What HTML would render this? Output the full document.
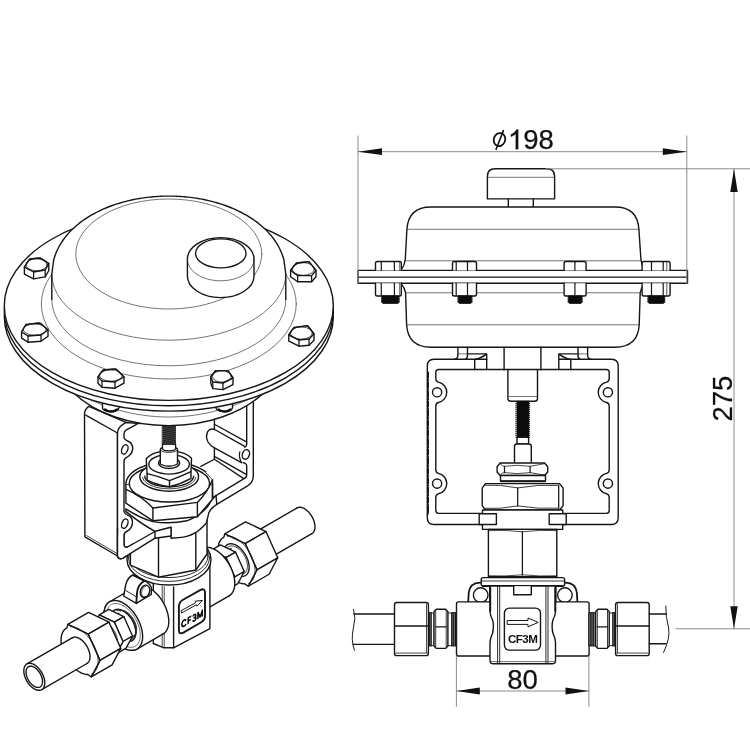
<!DOCTYPE html>
<html><head><meta charset="utf-8"><title>Valve drawing</title>
<style>
html,body{margin:0;padding:0;background:#fff;}
body{width:750px;height:750px;overflow:hidden;font-family:"Liberation Sans",sans-serif;}
svg{display:block;filter:grayscale(1);}
text{font-family:"Liberation Sans",sans-serif;fill:#111;}
</style></head><body>
<svg width="750" height="750" viewBox="0 0 750 750" stroke-linecap="round" stroke-linejoin="round">
<rect x="0" y="0" width="750" height="750" fill="#fff"/>
<path d="M487.4 198.9 L487.4 176.4 Q487.4 168.7 495.1 168.7 L546.9 168.7 Q554.6 168.7 554.6 176.4 L554.6 198.9 Z" stroke="#161616" stroke-width="1.4" fill="#fff" />
<path d="M487.6 177.3L554.4 177.3" stroke="#2a2a2a" stroke-width="0.65" fill="none"/>
<path d="M508.3 198.9V207 M533.3 198.9V207" stroke="#161616" stroke-width="1.4" fill="none" />
<path d="M431 207 L615 207 Q637.6 207 638.9 229.3 L640.9 259.2 Q641.3 265 644.8 270.4 L644.8 283.4 Q641 288 640.2 292.8 L639.2 324.8 Q638 347.2 615 347.2 L431 347.2 Q408 347.2 406.6 324.8 L405.6 292.8 Q404.8 288 401 283.4 L401 270.4 Q404.8 265 405.3 259.2 L406.9 229.3 Q408.4 207 431 207 Z" stroke="#161616" stroke-width="1.4" fill="#fff" />
<path d="M406.9 229.3L638.9 229.3" stroke="#2a2a2a" stroke-width="0.65" fill="none"/>
<path d="M405.2 260.8L641 260.8" stroke="#2a2a2a" stroke-width="0.65" fill="none"/>
<path d="M405.6 292.8L640.2 292.8" stroke="#2a2a2a" stroke-width="0.65" fill="none"/>
<path d="M406.6 324.8L639.2 324.8" stroke="#2a2a2a" stroke-width="0.65" fill="none"/>
<rect x="358" y="270.4" width="329.5" height="12.9" rx="0" stroke="#161616" stroke-width="1.4" fill="#fff"/>
<path d="M358 277.1L687.5 277.1" stroke="#161616" stroke-width="1.4" fill="none"/>
<path d="M375.5 270.4 L375.5 263.3 Q375.5 261.5 377.3 261.5 L399.5 261.5 Q401.3 261.5 401.3 263.3 L401.3 270.4" stroke="#161616" stroke-width="1.4" fill="#fff" />
<path d="M375.5 283.3 L375.5 294.2 Q375.5 296 377.3 296 L399.5 296 Q401.3 296 401.3 294.2 L401.3 283.3" stroke="#161616" stroke-width="1.4" fill="#fff" />
<path d="M381.3 262.3L381.3 270.4" stroke="#161616" stroke-width="1.19" fill="none"/>
<path d="M381.3 283.3L381.3 295.2" stroke="#161616" stroke-width="1.19" fill="none"/>
<path d="M394.4 262.3L394.4 270.4" stroke="#161616" stroke-width="1.19" fill="none"/>
<path d="M394.4 283.3L394.4 295.2" stroke="#161616" stroke-width="1.19" fill="none"/>
<path d="M399.6 262.3L399.6 270.4" stroke="#161616" stroke-width="0.6" fill="none"/>
<path d="M399.6 283.3L399.6 295.2" stroke="#161616" stroke-width="0.6" fill="none"/>
<path d="M381.8 296 L381.1 296.4 L382.3 297.29999999999995 L381.1 298.2 L382.3 299.09999999999997 L381.1 300.0 L382.3 300.9 L381.1 301.8 L382.3 302.7 L382.8 303.4 L398 303.4 L398.5 302.7 L399.7 301.8 L398.5 300.9 L399.7 300.0 L398.5 299.09999999999997 L399.7 298.2 L398.5 297.29999999999995 L399.7 296.4 L399 296 Z" fill="#0c0c0c" stroke="#0c0c0c" stroke-width="0.8"/>
<path d="M452.5 270.4 L452.5 263.3 Q452.5 261.5 454.3 261.5 L474.7 261.5 Q476.5 261.5 476.5 263.3 L476.5 270.4" stroke="#161616" stroke-width="1.4" fill="#fff" />
<path d="M452.5 283.3 L452.5 294.2 Q452.5 296 454.3 296 L474.7 296 Q476.5 296 476.5 294.2 L476.5 283.3" stroke="#161616" stroke-width="1.4" fill="#fff" />
<path d="M456.2 262.3L456.2 270.4" stroke="#161616" stroke-width="1.19" fill="none"/>
<path d="M456.2 283.3L456.2 295.2" stroke="#161616" stroke-width="1.19" fill="none"/>
<path d="M467.5 262.3L467.5 270.4" stroke="#161616" stroke-width="1.19" fill="none"/>
<path d="M467.5 283.3L467.5 295.2" stroke="#161616" stroke-width="1.19" fill="none"/>
<path d="M458.2 296 L457.5 296.4 L458.7 297.29999999999995 L457.5 298.2 L458.7 299.09999999999997 L457.5 300.0 L458.7 300.9 L457.5 301.8 L458.7 302.7 L459.2 303.4 L470.8 303.4 L471.3 302.7 L472.5 301.8 L471.3 300.9 L472.5 300.0 L471.3 299.09999999999997 L472.5 298.2 L471.3 297.29999999999995 L472.5 296.4 L471.8 296 Z" fill="#0c0c0c" stroke="#0c0c0c" stroke-width="0.8"/>
<path d="M564.1 270.4 L564.1 263.3 Q564.1 261.5 565.9 261.5 L584.3000000000001 261.5 Q586.1 261.5 586.1 263.3 L586.1 270.4" stroke="#161616" stroke-width="1.4" fill="#fff" />
<path d="M564.1 283.3 L564.1 294.2 Q564.1 296 565.9 296 L584.3000000000001 296 Q586.1 296 586.1 294.2 L586.1 283.3" stroke="#161616" stroke-width="1.4" fill="#fff" />
<path d="M574.9 262.3L574.9 270.4" stroke="#161616" stroke-width="1.19" fill="none"/>
<path d="M574.9 283.3L574.9 295.2" stroke="#161616" stroke-width="1.19" fill="none"/>
<path d="M568.4 296 L567.6999999999999 296.4 L568.9 297.29999999999995 L567.6999999999999 298.2 L568.9 299.09999999999997 L567.6999999999999 300.0 L568.9 300.9 L567.6999999999999 301.8 L568.9 302.7 L569.4 303.4 L581 303.4 L581.5 302.7 L582.7 301.8 L581.5 300.9 L582.7 300.0 L581.5 299.09999999999997 L582.7 298.2 L581.5 297.29999999999995 L582.7 296.4 L582 296 Z" fill="#0c0c0c" stroke="#0c0c0c" stroke-width="0.8"/>
<path d="M642.1 270.4 L642.1 263.3 Q642.1 261.5 643.9 261.5 L668.3000000000001 261.5 Q670.1 261.5 670.1 263.3 L670.1 270.4" stroke="#161616" stroke-width="1.4" fill="#fff" />
<path d="M642.1 283.3 L642.1 294.2 Q642.1 296 643.9 296 L668.3000000000001 296 Q670.1 296 670.1 294.2 L670.1 283.3" stroke="#161616" stroke-width="1.4" fill="#fff" />
<path d="M651.5 262.3L651.5 270.4" stroke="#161616" stroke-width="1.19" fill="none"/>
<path d="M651.5 283.3L651.5 295.2" stroke="#161616" stroke-width="1.19" fill="none"/>
<path d="M663.2 262.3L663.2 270.4" stroke="#161616" stroke-width="1.19" fill="none"/>
<path d="M663.2 283.3L663.2 295.2" stroke="#161616" stroke-width="1.19" fill="none"/>
<path d="M666.8 262.3L666.8 270.4" stroke="#161616" stroke-width="0.7" fill="none"/>
<path d="M666.8 283.3L666.8 295.2" stroke="#161616" stroke-width="0.7" fill="none"/>
<path d="M648.1 296 L647.4 296.4 L648.6 297.29999999999995 L647.4 298.2 L648.6 299.09999999999997 L647.4 300.0 L648.6 300.9 L647.4 301.8 L648.6 302.7 L649.1 303.4 L663.5 303.4 L664.0 302.7 L665.2 301.8 L664.0 300.9 L665.2 300.0 L664.0 299.09999999999997 L665.2 298.2 L664.0 297.29999999999995 L665.2 296.4 L664.5 296 Z" fill="#0c0c0c" stroke="#0c0c0c" stroke-width="0.8"/>
<path d="M457.9 347.2V355 Q457.9 358.8 454.5 359.2 M467.5 347.2V355 Q467.5 358.8 465.5 359.2" stroke="#161616" stroke-width="1.4" fill="none" />
<path d="M457.9 353.9L467.5 353.9" stroke="#2a2a2a" stroke-width="0.65" fill="none"/>
<path d="M587.6 347.2V355 Q587.6 358.8 591 359.2 M578 347.2V355 Q578 358.8 580 359.2" stroke="#161616" stroke-width="1.4" fill="none" />
<path d="M578 353.9L587.6 353.9" stroke="#2a2a2a" stroke-width="0.65" fill="none"/>
<path d="M467.5 353.9 L486.7 353.9 L486.7 369.5 M474.7 369.5 L474.7 359.4 Q481 358.6 486.7 353.9" stroke="#161616" stroke-width="1.4" fill="none" />
<path d="M578 353.9 L558.8 353.9 L558.8 369.5 M570.8 369.5 L570.8 359.4 Q564.5 358.6 558.8 353.9" stroke="#161616" stroke-width="1.4" fill="none" />
<path d="M504.1 347.2V369.9 M540.9 347.2V369.9" stroke="#161616" stroke-width="1.4" fill="none" />
<path d="M507.9 369.9 V398.5 Q507.9 401.3 511 401.3 L534.5 401.3 Q537.5 401.3 537.5 398.5 V369.9" stroke="#161616" stroke-width="1.4" fill="#fff" />
<path d="M508.5 396.5L537 396.5" stroke="#2a2a2a" stroke-width="0.65" fill="none"/>
<rect x="516.2" y="401.3" width="13.4" height="36" fill="#0c0c0c" stroke="#0c0c0c" stroke-width="0.8"/>
<path d="M515.4 402.4L516.5 402.4" stroke="#fff" stroke-width="0.7" fill="none"/>
<path d="M529.3 402.4L530.4 402.4" stroke="#fff" stroke-width="0.7" fill="none"/>
<path d="M515.4 404.4L516.5 404.4" stroke="#fff" stroke-width="0.7" fill="none"/>
<path d="M529.3 404.4L530.4 404.4" stroke="#fff" stroke-width="0.7" fill="none"/>
<path d="M515.4 406.4L516.5 406.4" stroke="#fff" stroke-width="0.7" fill="none"/>
<path d="M529.3 406.4L530.4 406.4" stroke="#fff" stroke-width="0.7" fill="none"/>
<path d="M515.4 408.4L516.5 408.4" stroke="#fff" stroke-width="0.7" fill="none"/>
<path d="M529.3 408.4L530.4 408.4" stroke="#fff" stroke-width="0.7" fill="none"/>
<path d="M515.4 410.4L516.5 410.4" stroke="#fff" stroke-width="0.7" fill="none"/>
<path d="M529.3 410.4L530.4 410.4" stroke="#fff" stroke-width="0.7" fill="none"/>
<path d="M515.4 412.4L516.5 412.4" stroke="#fff" stroke-width="0.7" fill="none"/>
<path d="M529.3 412.4L530.4 412.4" stroke="#fff" stroke-width="0.7" fill="none"/>
<path d="M515.4 414.4L516.5 414.4" stroke="#fff" stroke-width="0.7" fill="none"/>
<path d="M529.3 414.4L530.4 414.4" stroke="#fff" stroke-width="0.7" fill="none"/>
<path d="M515.4 416.4L516.5 416.4" stroke="#fff" stroke-width="0.7" fill="none"/>
<path d="M529.3 416.4L530.4 416.4" stroke="#fff" stroke-width="0.7" fill="none"/>
<path d="M515.4 418.4L516.5 418.4" stroke="#fff" stroke-width="0.7" fill="none"/>
<path d="M529.3 418.4L530.4 418.4" stroke="#fff" stroke-width="0.7" fill="none"/>
<path d="M515.4 420.4L516.5 420.4" stroke="#fff" stroke-width="0.7" fill="none"/>
<path d="M529.3 420.4L530.4 420.4" stroke="#fff" stroke-width="0.7" fill="none"/>
<path d="M515.4 422.4L516.5 422.4" stroke="#fff" stroke-width="0.7" fill="none"/>
<path d="M529.3 422.4L530.4 422.4" stroke="#fff" stroke-width="0.7" fill="none"/>
<path d="M515.4 424.4L516.5 424.4" stroke="#fff" stroke-width="0.7" fill="none"/>
<path d="M529.3 424.4L530.4 424.4" stroke="#fff" stroke-width="0.7" fill="none"/>
<path d="M515.4 426.4L516.5 426.4" stroke="#fff" stroke-width="0.7" fill="none"/>
<path d="M529.3 426.4L530.4 426.4" stroke="#fff" stroke-width="0.7" fill="none"/>
<path d="M515.4 428.4L516.5 428.4" stroke="#fff" stroke-width="0.7" fill="none"/>
<path d="M529.3 428.4L530.4 428.4" stroke="#fff" stroke-width="0.7" fill="none"/>
<path d="M515.4 430.4L516.5 430.4" stroke="#fff" stroke-width="0.7" fill="none"/>
<path d="M529.3 430.4L530.4 430.4" stroke="#fff" stroke-width="0.7" fill="none"/>
<path d="M515.4 432.4L516.5 432.4" stroke="#fff" stroke-width="0.7" fill="none"/>
<path d="M529.3 432.4L530.4 432.4" stroke="#fff" stroke-width="0.7" fill="none"/>
<path d="M515.4 434.4L516.5 434.4" stroke="#fff" stroke-width="0.7" fill="none"/>
<path d="M529.3 434.4L530.4 434.4" stroke="#fff" stroke-width="0.7" fill="none"/>
<path d="M515.4 436.4L516.5 436.4" stroke="#fff" stroke-width="0.7" fill="none"/>
<path d="M529.3 436.4L530.4 436.4" stroke="#fff" stroke-width="0.7" fill="none"/>
<rect x="517" y="437.3" width="11.6" height="6.7" rx="0" stroke="#161616" stroke-width="1.4" fill="#fff"/>
<path d="M514.5 462.1 V446.5 Q514.5 444 517 444 L528.8 444 Q531.3 444 531.3 446.5 V462.1" stroke="#161616" stroke-width="1.4" fill="#fff" />
<path d="M486.7 359.2 L434 359.2 Q427.3 359.2 427.3 366 L427.3 517.8 Q427.3 524.5 434 524.5 L611.5 524.5 Q618.2 524.5 618.2 517.8 L618.2 366 Q618.2 359.2 611.5 359.2 L558.8 359.2" stroke="#161616" stroke-width="1.4" fill="none" />
<path d="M438.6 369.5 L606.4000000000001 369.5 Q609.2 369.5 609.2 372.3 L609.2 378.5 Q609.2 381.3 606.6 382.1 A10.4 10.4 0 0 0 606.6 402.5 Q609.2 403.3 609.2 406.1 L609.2 469.8 Q609.2 472.6 606.6 473.40000000000003 A10.4 10.4 0 0 0 606.6 493.8 Q609.2 494.6 609.2 497.40000000000003 L609.2 510.59999999999997 Q609.2 513.4 606.4000000000001 513.4 L438.6 513.4 Q435.8 513.4 435.8 510.59999999999997 L435.8 497.40000000000003 Q435.8 494.6 438.40000000000003 493.8 A10.4 10.4 0 0 0 438.40000000000003 473.40000000000003 Q435.8 472.6 435.8 469.8 L435.8 406.1 Q435.8 403.3 438.40000000000003 402.5 A10.4 10.4 0 0 0 438.40000000000003 382.1 Q435.8 381.3 435.8 378.5 L435.8 372.3 Q435.8 369.5 438.6 369.5 Z" stroke="#161616" stroke-width="1.4" fill="none" />
<ellipse cx="437.1" cy="392.3" rx="4.6" ry="4.6" stroke="#161616" stroke-width="1.4" fill="none"/>
<ellipse cx="437.1" cy="483.6" rx="4.6" ry="4.6" stroke="#161616" stroke-width="1.4" fill="none"/>
<ellipse cx="607.9" cy="392.3" rx="4.6" ry="4.6" stroke="#161616" stroke-width="1.4" fill="none"/>
<ellipse cx="607.9" cy="483.6" rx="4.6" ry="4.6" stroke="#161616" stroke-width="1.4" fill="none"/>
<path d="M428.5 372 V514" stroke="#161616" stroke-width="1.0" stroke-dasharray="6 1.2 1.2 1.2" fill="none"/>
<path d="M497.1 466.7 L500.2 463 L544.6 463 L547.7 466.7 L547.7 472 L544.6 475.5 L500.2 475.5 L497.1 472 Z" stroke="#161616" stroke-width="1.4" fill="#fff" />
<path d="M504.5 466.3V472.6 M530.1 466.3V472.6" stroke="#161616" stroke-width="1.26" fill="none" />
<path d="M500.2 463.6 Q502.5 466.5 504.5 466.3 Q517 464.3 530.1 466.3 Q540 464.6 544.6 463.6" stroke="#161616" stroke-width="0.78" fill="none" />
<path d="M500.2 475 Q502.5 472.4 504.5 472.6 Q517 474.6 530.1 472.6 Q540 474.4 544.6 475" stroke="#161616" stroke-width="0.78" fill="none" />
<rect x="500.5" y="475.5" width="45" height="5.6" rx="0" stroke="#161616" stroke-width="1.4" fill="#fff"/>
<path d="M501 481.3L545 481.3" stroke="#161616" stroke-width="2.0" fill="none"/>
<path d="M482.2 488.2 L485.4 483.6 L559.6 483.6 L563.1 488.2 L563.1 505.6 L559.6 510 L485.4 510 L482.2 505.6 Z" stroke="#161616" stroke-width="1.4" fill="#fff" />
<path d="M517.7 487.9V505.9 M558.7 485.3V508.2" stroke="#161616" stroke-width="1.26" fill="none" />
<path d="M484.6 485.2 Q500 484.3 517.7 487.9 Q538 484.3 558.7 485.3" stroke="#161616" stroke-width="0.8450000000000001" fill="none" />
<path d="M484.6 508.4 Q500 509.3 517.7 505.9 Q538 509.3 558.7 508.2" stroke="#161616" stroke-width="0.8450000000000001" fill="none" />
<rect x="482.5" y="510" width="80.2" height="19.4" rx="0" stroke="#161616" stroke-width="1.4" fill="#fff"/>
<rect x="479.2" y="513.8" width="17.2" height="10.7" rx="0" stroke="#161616" stroke-width="1.4" fill="#fff"/>
<rect x="549.2" y="513.8" width="17.0" height="10.7" rx="0" stroke="#161616" stroke-width="1.4" fill="#fff"/>
<rect x="488.4" y="529.4" width="68.4" height="47.4" rx="0" stroke="#161616" stroke-width="1.4" fill="#fff"/>
<path d="M522.4 531.6L522.4 575" stroke="#161616" stroke-width="1.26" fill="none"/>
<path d="M488.4 530.6 Q505 529.6 522.4 531.8 Q540 529.6 556.8 530.6" stroke="#161616" stroke-width="0.78" fill="none" />
<path d="M488.4 575.8 Q505 576.6 522.4 574.8 Q540 576.6 556.8 575.8" stroke="#161616" stroke-width="0.78" fill="none" />
<path d="M468.2 602.3 L468.7 593 Q469.6 583 480 582.6 L490 582.6 L490 602.3" stroke="#161616" stroke-width="1.8" fill="#fff" />
<ellipse cx="480.7" cy="595.1" rx="7.3" ry="7.3" stroke="#161616" stroke-width="1.4" fill="#fff"/>
<path d="M577.3999999999999 602.3 L576.8999999999999 593 Q575.9999999999999 583 565.5999999999999 582.6 L555.5999999999999 582.6 L555.5999999999999 602.3" stroke="#161616" stroke-width="1.8" fill="#fff" />
<ellipse cx="564.8999999999999" cy="595.1" rx="7.3" ry="7.3" stroke="#161616" stroke-width="1.4" fill="#fff"/>
<path d="M490.5 601.9 L458.6 601.9 Q456.5 601.9 456.5 604 L456.5 653.9 Q456.5 656 458.6 656 L490.5 656" stroke="#161616" stroke-width="1.4" fill="#fff" />
<path d="M555 601.9 L587 601.9 Q589.1 601.9 589.1 604 L589.1 653.9 Q589.1 656 587 656 L555 656" stroke="#161616" stroke-width="1.4" fill="#fff" />
<path d="M483.2 577.6 L562.6 577.6 Q564.6 577.6 564.6 579.6 L564.6 584 Q564.6 586 562.6 586 L483.2 586 Q481.2 586 481.2 584 L481.2 579.6 Q481.2 577.6 483.2 577.6 Z" stroke="#161616" stroke-width="1.4" fill="#fff" />
<path d="M482 581L564 581" stroke="#161616" stroke-width="0.8450000000000001" fill="none"/>
<path d="M483 586L562.6 586" stroke="#161616" stroke-width="1.9" fill="none"/>
<path d="M490 586 L490 612 Q490.4 616 492.6 620 Q494.2 626 492.6 633 Q490.4 638 490 642 L490 660.5 Q490 663.8 493.3 663.8 L552.2 663.8 Q555.5 663.8 555.5 660.5 L555.5 642 Q555.1 638 552.9 633 Q551.3 626 552.9 620 Q555.1 616 555.5 612 L555.5 586 Z" stroke="#161616" stroke-width="1.4" fill="#fff" />
<path d="M490.3 588 V611" stroke="#161616" stroke-width="1.8" stroke-dasharray="5 1.3" fill="none"/>
<path d="M555.2 588 V611" stroke="#161616" stroke-width="1.8" stroke-dasharray="5 1.3" fill="none"/>
<path d="M497.6 586.5V663.4 M499.7 586.5V663.4 M545.9 586.5V663.4 M548 586.5V663.4" stroke="#161616" stroke-width="0.9099999999999999" fill="none" />
<path d="M490.5 661.6L555 661.6" stroke="#2a2a2a" stroke-width="0.65" fill="none"/>
<path d="M513.7 586.2 V594.8 H531.3 V586.2" stroke="#161616" stroke-width="1.4" fill="#fff" />
<rect x="504.4" y="608.1" width="36.1" height="42" rx="5" stroke="#161616" stroke-width="1.4" fill="#fff"/>
<path d="M507.6 620.5 L528 620.5 L528 618 L538.2 622.4 L528 626.9 L528 624.4 L507.6 624.4 Z" stroke="#161616" stroke-width="1.0" fill="#fff" />
<text x="507.9" y="642.6" font-size="10.4" font-weight="bold" letter-spacing="-0.45" textLength="29.6" lengthAdjust="spacingAndGlyphs">CF3M</text>
<rect x="428.4" y="613" width="5.600000000000023" height="32.6" fill="#fff" stroke="#161616" stroke-width="0.9"/>
<rect x="428.7" y="612.2" width="3.099999999999966" height="34.2" fill="#111"/>
<path d="M430.25 613.4L430.25 645.2" stroke="#cfcfcf" stroke-width="0.45" fill="none"/>
<rect x="447.9" y="613" width="8.600000000000023" height="32.6" fill="#fff" stroke="#161616" stroke-width="0.9"/>
<rect x="451.1" y="612.2" width="5.099999999999966" height="34.2" fill="#111"/>
<path d="M452.8 613.4L452.8 645.2" stroke="#cfcfcf" stroke-width="0.45" fill="none"/>
<path d="M454.5 613.4L454.5 645.2" stroke="#cfcfcf" stroke-width="0.45" fill="none"/>
<path d="M434 611.6 L436.2 609.2 L445.7 609.2 L447.9 611.6 L447.9 646 L445.7 648.4 L436.2 648.4 L434 646 Z" stroke="#161616" stroke-width="1.4" fill="#fff" />
<path d="M435.6 626.8L446.29999999999995 626.8" stroke="#161616" stroke-width="1.26" fill="none"/>
<path d="M435.7 610.5V647.2 M446.2 610.5V647.2" stroke="#161616" stroke-width="0.8450000000000001" fill="none" />
<path d="M394.5 604.7 Q394.5 602.5 396.7 602.5 L426.2 602.5 Q428.4 602.5 428.4 604.7 L428.4 653.4 Q428.4 655.6 426.2 655.6 L396.7 655.6 Q394.5 655.6 394.5 653.4 Z" stroke="#161616" stroke-width="1.4" fill="#fff" />
<path d="M394.5 626L428.4 626" stroke="#161616" stroke-width="1.26" fill="none"/>
<path d="M395.7 653.1L427.2 653.1" stroke="#161616" stroke-width="0.78" fill="none"/>
<path d="M426.5 604L426.5 653" stroke="#161616" stroke-width="0.78" fill="none"/>
<path d="M394.5 614 L354 614 M394.5 644.4 L353.3 644.4" stroke="#161616" stroke-width="1.4" fill="none" />
<path d="M353.6 609.4 Q356.2 618 353.4 628 Q350.6 640 354.4 650.2" stroke="#161616" stroke-width="0.9750000000000001" fill="none" />
<rect x="609.2" y="613" width="6.399999999999977" height="32.6" fill="#fff" stroke="#161616" stroke-width="0.9"/>
<rect x="612.2" y="612.2" width="3.1000000000000227" height="34.2" fill="#111"/>
<path d="M613.75 613.4L613.75 645.2" stroke="#cfcfcf" stroke-width="0.45" fill="none"/>
<rect x="589.1" y="613" width="6.5" height="32.6" fill="#fff" stroke="#161616" stroke-width="0.9"/>
<rect x="589.4" y="612.2" width="5.100000000000023" height="34.2" fill="#111"/>
<path d="M591.1 613.4L591.1 645.2" stroke="#cfcfcf" stroke-width="0.45" fill="none"/>
<path d="M592.8 613.4L592.8 645.2" stroke="#cfcfcf" stroke-width="0.45" fill="none"/>
<path d="M595.6 611.6 L597.8000000000001 609.2 L607.0 609.2 L609.2 611.6 L609.2 646 L607.0 648.4 L597.8000000000001 648.4 L595.6 646 Z" stroke="#161616" stroke-width="1.4" fill="#fff" />
<path d="M597.2 626.8L607.6 626.8" stroke="#161616" stroke-width="1.26" fill="none"/>
<path d="M597.3000000000001 610.5V647.2 M607.5 610.5V647.2" stroke="#161616" stroke-width="0.8450000000000001" fill="none" />
<path d="M615.6 604.7 Q615.6 602.5 617.8000000000001 602.5 L647.0 602.5 Q649.2 602.5 649.2 604.7 L649.2 653.4 Q649.2 655.6 647.0 655.6 L617.8000000000001 655.6 Q615.6 655.6 615.6 653.4 Z" stroke="#161616" stroke-width="1.4" fill="#fff" />
<path d="M615.6 626L649.2 626" stroke="#161616" stroke-width="1.26" fill="none"/>
<path d="M616.8000000000001 653.1L648.0 653.1" stroke="#161616" stroke-width="0.78" fill="none"/>
<path d="M617.5 604L617.5 653" stroke="#161616" stroke-width="0.78" fill="none"/>
<path d="M649.2 614 L666.6 614 M649.2 643.8 L666 643.8" stroke="#161616" stroke-width="1.4" fill="none" />
<path d="M665.8 606 Q665.4 616 668.6 628 Q670.4 638 663.6 652.4" stroke="#161616" stroke-width="0.9750000000000001" fill="none" />
<path d="M249.89 535.22L297.08 507.97L297.76 507.64L298.48 507.42L299.25 507.30L300.06 507.28L300.91 507.36L301.78 507.55L302.67 507.83L303.58 508.22L304.49 508.70L305.41 509.27L306.31 509.93L307.20 510.68L308.08 511.50L308.92 512.39L309.73 513.35L310.50 514.36L311.23 515.42L311.90 516.52L312.52 517.66L313.08 518.82L313.57 519.99L313.99 521.17L314.34 522.35L314.61 523.51L314.81 524.66L314.93 525.77L314.97 526.85L314.93 527.88L314.81 528.86L314.61 529.78L314.34 530.62L313.99 531.40L313.57 532.09L313.08 532.70L312.52 533.21L311.90 533.63L264.70 560.88L264.70 560.88L264.03 561.21L263.31 561.43L262.53 561.55L261.72 561.57L260.88 561.49L260.01 561.30L259.11 561.02L258.21 560.63L257.30 560.15L256.38 559.58L255.48 558.92L254.58 558.17L253.71 557.35L252.87 556.46L252.06 555.50L251.28 554.49L250.56 553.43L249.89 552.33L249.27 551.19L248.71 550.03L248.22 548.86L247.80 547.68L247.45 546.50L247.17 545.34L246.98 544.19L246.86 543.08L246.82 542.00L246.86 540.97L246.98 539.99L247.17 539.07L247.45 538.23L247.80 537.45L248.22 536.76L248.71 536.15L249.27 535.64L249.89 535.22Z" stroke="#fff" stroke-width="0.01" fill="#fff" />
<path d="M249.89 535.22L297.08 507.97" stroke="#161616" stroke-width="1.4" fill="none" />
<path d="M264.70 560.88L311.90 533.63" stroke="#161616" stroke-width="1.4" fill="none" />
<path d="M297.08 507.97L297.76 507.64L298.48 507.42L299.25 507.30L300.06 507.28L300.91 507.36L301.78 507.55L302.67 507.83L303.58 508.22L304.49 508.70L305.41 509.27L306.31 509.93L307.20 510.68L308.08 511.50L308.92 512.39L309.73 513.35L310.50 514.36L311.23 515.42L311.90 516.52L312.52 517.66L313.08 518.82L313.57 519.99L313.99 521.17L314.34 522.35L314.61 523.51L314.81 524.66L314.93 525.77L314.97 526.85L314.93 527.88L314.81 528.86L314.61 529.78L314.34 530.62L313.99 531.40L313.57 532.09L313.08 532.70L312.52 533.21L311.90 533.63" stroke="#161616" stroke-width="1.4" fill="none" />
<path d="M264.70 560.88L264.03 561.21L263.31 561.43L262.53 561.55L261.72 561.57L260.88 561.49L260.01 561.30L259.11 561.02L258.21 560.63L257.30 560.15L256.38 559.58L255.48 558.92L254.58 558.17L253.71 557.35L252.87 556.46L252.06 555.50L251.28 554.49L250.56 553.43L249.89 552.33L249.27 551.19L248.71 550.03L248.22 548.86L247.80 547.68L247.45 546.50L247.17 545.34L246.98 544.19L246.86 543.08L246.82 542.00L246.86 540.97L246.98 539.99L247.17 539.07L247.45 538.23L247.80 537.45L248.22 536.76L248.71 536.15L249.27 535.64L249.89 535.22" stroke="#161616" stroke-width="1.4" fill="none" />
<path d="M224.74 533.84L245.52 521.84L265.97 531.58L277.74 557.79L269.07 574.26L248.28 586.26L247.11 583.64L245.75 583.85L244.32 583.89L242.83 583.74L241.29 583.41L239.72 582.91L238.12 582.23L236.51 581.38L234.90 580.37L233.30 579.20L231.73 577.89L230.19 576.45L228.70 574.87L227.28 573.19L225.92 571.41L224.64 569.53L223.45 567.59L222.36 565.59L221.38 563.55L220.51 561.48L219.77 559.40L219.15 557.32L218.67 555.27L218.32 553.25L218.11 551.28L218.04 549.38L218.11 547.57L218.32 545.84L218.67 544.23L219.15 542.73L219.77 541.37L220.51 540.15L221.38 539.08L222.36 538.17L223.45 537.43L224.64 536.85L225.92 536.46Z" stroke="#fff" stroke-width="0.01" fill="#fff" />
<path d="M224.74 533.84L245.52 521.84L265.97 531.58L245.18 543.58Z" stroke="#161616" stroke-width="1.4" fill="#fff" />
<path d="M245.18 543.58L265.97 531.58L277.74 557.79L256.96 569.79Z" stroke="#161616" stroke-width="1.4" fill="#fff" />
<path d="M256.96 569.79L277.74 557.79L269.07 574.26L248.28 586.26Z" stroke="#161616" stroke-width="1.4" fill="#fff" />
<path d="M224.74 533.84L245.18 543.58L256.96 569.79L248.28 586.26L244.90 583.90L243.39 583.82L241.83 583.55L240.23 583.09L238.60 582.45L236.95 581.63L235.30 580.64L233.66 579.48L232.04 578.17L230.46 576.71L228.92 575.12L227.45 573.41L226.05 571.59L224.73 569.68L223.51 567.69L222.39 565.64L221.38 563.55L220.49 561.43L219.74 559.29L219.11 557.17L218.63 555.07L218.29 553.00L218.09 551.00L218.04 549.06L218.14 547.21L218.39 545.47L218.78 543.84L219.31 542.34L219.98 540.99L220.78 539.78L221.71 538.74L222.76 537.87L223.91 537.18Z" stroke="#161616" stroke-width="1.4" fill="#fff" />
<path d="M227.24 536.17L228.68 536.13L230.17 536.28L231.71 536.61L233.29 537.12L234.90 537.80L236.51 538.65L238.13 539.66L239.73 540.83L241.31 542.15L242.85 543.60L244.34 545.18L245.78 546.87L247.14 548.66L248.42 550.53L249.62 552.48L250.71 554.49L251.69 556.54L252.56 558.62L253.31 560.70L253.93 562.79L254.41 564.85L254.76 566.87L254.97 568.84L255.04 570.75L254.97 572.57L254.76 574.30L254.41 575.92L253.93 577.42L253.31 578.79L252.56 580.02L251.69 581.09L250.71 582.00L249.62 582.75L248.42 583.32" stroke="#161616" stroke-width="0.8450000000000001" fill="none" />
<path d="M236.51 545.45L237.61 546.14L238.71 546.94L239.78 547.84L240.84 548.83L241.85 549.90L242.83 551.06L243.76 552.28L244.64 553.56L245.45 554.89L246.20 556.26L246.87 557.66L247.46 559.07L247.97 560.50L248.39 561.92L248.72 563.32L248.96 564.70L249.11 566.05L249.15 567.35L249.11 568.59L248.96 569.77L248.72 570.88L248.39 571.90L247.97 572.84L247.46 573.67L246.87 574.40L246.20 575.03L245.45 575.54L244.64 575.93L243.76 576.20L242.83 576.34L241.85 576.37L240.84 576.27L239.78 576.04L238.71 575.70L237.61 575.23L236.51 574.65L235.41 573.96L234.32 573.16L233.24 572.26L232.19 571.27L231.17 570.20L230.19 569.04L229.26 567.82L228.38 566.54L227.57 565.21L226.83 563.84L226.15 562.44L225.56 561.03L225.05 559.60L224.63 558.18L224.30 556.78L224.06 555.40L223.92 554.05L223.87 552.75L223.92 551.51L224.06 550.33L224.30 549.22L224.63 548.20L225.05 547.26L225.56 546.43L226.15 545.70L226.83 545.07L227.57 544.56L228.38 544.17L229.26 543.90L230.19 543.76L231.17 543.73L232.19 543.83L233.24 544.06L234.32 544.40L235.41 544.87L236.51 545.45Z" stroke="#161616" stroke-width="1.4" fill="none" />
<path d="M236.51 547.45L237.46 548.05L238.41 548.74L239.34 549.51L240.24 550.36L241.12 551.29L241.97 552.29L242.77 553.34L243.52 554.45L244.23 555.60L244.87 556.78L245.45 557.98L245.96 559.21L246.40 560.43L246.76 561.66L247.05 562.87L247.26 564.07L247.38 565.23L247.42 566.35L247.38 567.42L247.26 568.44L247.05 569.40L246.76 570.28L246.40 571.08L245.96 571.81L245.45 572.44L244.87 572.98L244.23 573.41L243.52 573.75L242.77 573.98L241.97 574.11L241.12 574.13L240.24 574.04L239.34 573.85L238.41 573.55L237.46 573.15L236.51 572.65L235.56 572.05L234.62 571.36L233.69 570.59L232.78 569.74L231.90 568.81L231.06 567.81L230.25 566.76L229.50 565.65L228.80 564.50L228.15 563.32L227.57 562.12L227.06 560.89L226.62 559.67L226.26 558.44L225.97 557.23L225.77 556.03L225.64 554.87L225.60 553.75L225.64 552.68L225.77 551.66L225.97 550.70L226.26 549.82L226.62 549.02L227.06 548.29L227.57 547.66L228.15 547.12L228.80 546.69L229.50 546.35L230.25 546.12L231.06 545.99L231.90 545.97L232.78 546.06L233.69 546.25L234.62 546.55L235.56 546.95L236.51 547.45Z" stroke="#161616" stroke-width="0.8450000000000001" fill="none" />
<path d="M222.90 553.48L231.13 548.73L231.70 548.46L232.31 548.27L232.96 548.17L233.64 548.15L234.36 548.22L235.09 548.38L235.84 548.62L236.61 548.94L237.38 549.35L238.15 549.83L238.91 550.39L239.66 551.02L240.40 551.71L241.11 552.46L241.79 553.27L242.44 554.12L243.05 555.01L243.62 555.94L244.14 556.90L244.61 557.88L245.03 558.87L245.38 559.86L245.68 560.85L245.91 561.84L246.08 562.80L246.18 563.74L246.21 564.65L246.18 565.52L246.08 566.34L245.91 567.12L245.68 567.83L245.38 568.48L245.03 569.07L244.61 569.58L244.14 570.01L243.62 570.37L235.40 575.12L235.40 575.12L234.83 575.39L234.22 575.58L233.57 575.68L232.88 575.70L232.17 575.63L231.44 575.47L230.68 575.23L229.92 574.91L229.15 574.50L228.38 574.02L227.62 573.46L226.86 572.83L226.13 572.14L225.42 571.39L224.73 570.58L224.08 569.73L223.47 568.84L222.90 567.91L222.38 566.95L221.91 565.97L221.50 564.98L221.14 563.99L220.85 563.00L220.62 562.01L220.45 561.05L220.35 560.11L220.32 559.20L220.35 558.33L220.45 557.51L220.62 556.73L220.85 556.02L221.14 555.37L221.50 554.78L221.91 554.27L222.38 553.84L222.90 553.48Z" stroke="#fff" stroke-width="0.01" fill="#fff" />
<path d="M222.90 553.48L231.13 548.73" stroke="#161616" stroke-width="1.4" fill="none" />
<path d="M235.40 575.12L243.62 570.37" stroke="#161616" stroke-width="1.4" fill="none" />
<path d="M235.40 575.12L234.83 575.39L234.22 575.58L233.57 575.68L232.88 575.70L232.17 575.63L231.44 575.47L230.68 575.23L229.92 574.91L229.15 574.50L228.38 574.02L227.62 573.46L226.86 572.83L226.13 572.14L225.42 571.39L224.73 570.58L224.08 569.73L223.47 568.84L222.90 567.91L222.38 566.95L221.91 565.97L221.50 564.98L221.14 563.99L220.85 563.00L220.62 562.01L220.45 561.05L220.35 560.11L220.32 559.20L220.35 558.33L220.45 557.51L220.62 556.73L220.85 556.02L221.14 555.37L221.50 554.78L221.91 554.27L222.38 553.84L222.90 553.48" stroke="#161616" stroke-width="1.4" fill="none" />
<path d="M210.93 550.45L220.46 544.95L235.55 552.14L244.25 571.49L237.84 583.65L228.32 589.15L227.62 587.61L226.60 587.77L225.52 587.79L224.39 587.68L223.23 587.43L222.05 587.05L220.84 586.54L219.62 585.90L218.41 585.14L217.20 584.26L216.02 583.27L214.86 582.18L213.73 580.99L212.65 579.72L211.63 578.37L210.66 576.96L209.77 575.49L208.94 573.98L208.20 572.44L207.55 570.88L206.99 569.31L206.52 567.74L206.16 566.19L205.89 564.67L205.73 563.18L205.68 561.75L205.73 560.38L205.89 559.08L206.16 557.86L206.52 556.73L206.99 555.70L207.55 554.78L208.20 553.97L208.94 553.28L209.77 552.72L210.66 552.29L211.63 551.99Z" stroke="#fff" stroke-width="0.01" fill="#fff" />
<path d="M210.93 550.45L220.46 544.95L235.55 552.14L226.03 557.64Z" stroke="#161616" stroke-width="1.3299999999999998" fill="#fff" />
<path d="M226.03 557.64L235.55 552.14L244.25 571.49L234.72 576.99Z" stroke="#161616" stroke-width="1.3299999999999998" fill="#fff" />
<path d="M234.72 576.99L244.25 571.49L237.84 583.65L228.32 589.15Z" stroke="#161616" stroke-width="1.3299999999999998" fill="#fff" />
<path d="M210.93 550.45L226.03 557.64L234.72 576.99L228.32 589.15L225.95 587.80L224.82 587.74L223.64 587.54L222.43 587.19L221.20 586.71L219.96 586.09L218.71 585.34L217.47 584.47L216.25 583.47L215.06 582.37L213.90 581.17L212.78 579.88L211.73 578.51L210.73 577.07L209.81 575.57L208.96 574.02L208.20 572.44L207.53 570.84L206.96 569.23L206.49 567.63L206.13 566.04L205.87 564.48L205.72 562.97L205.68 561.51L205.76 560.11L205.94 558.79L206.24 557.57L206.64 556.44L207.15 555.41L207.75 554.50L208.45 553.72L209.24 553.06L210.12 552.54Z" stroke="#161616" stroke-width="1.3299999999999998" fill="#fff" />
<path d="M219.62 557.40L220.56 557.99L221.49 558.67L222.40 559.43L223.30 560.27L224.16 561.18L224.99 562.16L225.78 563.20L226.53 564.29L227.22 565.42L227.85 566.58L228.42 567.77L228.92 568.97L229.36 570.18L229.71 571.39L230.00 572.58L230.20 573.75L230.32 574.90L230.36 576.00L230.32 577.06L230.20 578.06L230.00 579.00L229.71 579.87L229.36 580.66L228.92 581.37L228.42 581.99L227.85 582.52L227.22 582.95L226.53 583.28L225.78 583.51L224.99 583.64L224.16 583.66L223.30 583.57L222.40 583.38L221.49 583.09L220.56 582.69L219.62 582.20L218.69 581.61L217.76 580.93L216.84 580.17L215.95 579.33L215.09 578.42L214.25 577.44L213.46 576.40L212.72 575.31L212.03 574.18L211.40 573.02L210.83 571.83L210.32 570.63L209.89 569.42L209.53 568.21L209.25 567.02L209.05 565.85L208.93 564.70L208.89 563.60L208.93 562.54L209.05 561.54L209.25 560.60L209.53 559.73L209.89 558.94L210.32 558.23L210.83 557.61L211.40 557.08L212.03 556.65L212.72 556.32L213.46 556.09L214.25 555.96L215.09 555.94L215.95 556.03L216.84 556.22L217.76 556.51L218.69 556.91L219.62 557.40Z" stroke="#161616" stroke-width="0.8450000000000001" fill="none" />
<path d="M206.82 563.62L214.61 559.12L215.15 558.86L215.72 558.68L216.33 558.59L216.98 558.57L217.65 558.64L218.34 558.78L219.05 559.01L219.77 559.32L220.49 559.70L221.21 560.15L221.93 560.68L222.64 561.27L223.33 561.92L224.00 562.63L224.65 563.39L225.26 564.19L225.83 565.03L226.37 565.91L226.86 566.81L227.30 567.73L227.69 568.66L228.02 569.59L228.30 570.53L228.52 571.45L228.68 572.36L228.77 573.25L228.80 574.10L228.77 574.92L228.68 575.69L228.52 576.42L228.30 577.09L228.02 577.71L227.69 578.26L227.30 578.74L226.86 579.15L226.37 579.48L218.57 583.98L218.57 583.98L218.04 584.24L217.46 584.42L216.85 584.51L216.21 584.53L215.54 584.46L214.85 584.32L214.14 584.09L213.42 583.78L212.70 583.40L211.97 582.95L211.25 582.42L210.54 581.83L209.85 581.18L209.18 580.47L208.54 579.71L207.93 578.91L207.35 578.07L206.82 577.19L206.33 576.29L205.89 575.37L205.50 574.44L205.16 573.51L204.88 572.57L204.67 571.65L204.51 570.74L204.41 569.85L204.38 569.00L204.41 568.18L204.51 567.41L204.67 566.68L204.88 566.01L205.16 565.39L205.50 564.84L205.89 564.36L206.33 563.95L206.82 563.62Z" stroke="#fff" stroke-width="0.01" fill="#fff" />
<path d="M206.82 563.62L214.61 559.12" stroke="#161616" stroke-width="1.4" fill="none" />
<path d="M218.57 583.98L226.37 579.48" stroke="#161616" stroke-width="1.4" fill="none" />
<path d="M218.57 583.98L218.04 584.24L217.46 584.42L216.85 584.51L216.21 584.53L215.54 584.46L214.85 584.32L214.14 584.09L213.42 583.78L212.70 583.40L211.97 582.95L211.25 582.42L210.54 581.83L209.85 581.18L209.18 580.47L208.54 579.71L207.93 578.91L207.35 578.07L206.82 577.19L206.33 576.29L205.89 575.37L205.50 574.44L205.16 573.51L204.88 572.57L204.67 571.65L204.51 570.74L204.41 569.85L204.38 569.00L204.41 568.18L204.51 567.41L204.67 566.68L204.88 566.01L205.16 565.39L205.50 564.84L205.89 564.36L206.33 563.95L206.82 563.62" stroke="#161616" stroke-width="1.4" fill="none" />
<path d="M214.40 404.00L253.30 404.00L253.30 478.00L249.00 485.00L216.80 504.40L200.00 512.00L200.00 404.00Z" stroke="#fff" stroke-width="0.01" fill="#fff" stroke-linejoin="round"/>
<path d="M253.3 400 L253.3 475.6 Q253.2 482.6 248 485.6 L216.8 504.4" stroke="#161616" stroke-width="1.4" fill="none" />
<path d="M246.7 402 L246.7 443.4 Q246.9 446.6 244 447.6 M243 462.6 Q246.8 463.4 246.7 466 L246.7 475 Q246.6 477.6 243.6 478.8 L216 495.6" stroke="#161616" stroke-width="1.4" fill="none" />
<path d="M244.6 446.4 L215.6 430 Q210.6 427.4 207.8 431.4 Q205.2 436.8 208 442 Q210.2 445.6 214.4 447.8 L241.5 462.6" stroke="#161616" stroke-width="1.4" fill="#fff" />
<ellipse cx="245.9" cy="454.4" rx="3.5" ry="4.9" stroke="#161616" stroke-width="1.4" fill="#fff" transform="rotate(18 245.9 454.4)"/>
<path d="M239.8 451.8 Q238.5 457 241.5 462.6" stroke="#161616" stroke-width="1.26" fill="none" />
<path d="M214.4 418 L214.4 429.6 M214.4 447.8 L214.4 459.2" stroke="#161616" stroke-width="1.4" fill="none" />
<path d="M214.4 424.2 L246.4 441.9" stroke="#161616" stroke-width="1.26" fill="none" />
<path d="M214.4 459.2 L243.8 478.6 M214.4 456.4 L246.2 474.4" stroke="#161616" stroke-width="1.26" fill="none" />
<path d="M214.4 459.2 L200.8 466.4" stroke="#161616" stroke-width="1.26" fill="none" />
<path d="M84.5 414 Q84.6 409.5 88.7 406.4 L126 422.4 L117.5 433 L117.5 556 L84.9 536.8 Z" stroke="#161616" stroke-width="1.4" fill="#fff" />
<path d="M85.7 415.2 L117.5 433" stroke="#161616" stroke-width="1.4" fill="none" />
<path d="M86.6 535.6 L117.5 553.8" stroke="#161616" stroke-width="0.78" fill="none" />
<path d="M117.5 433 Q118 427.6 123 424.6 L126 422.6 L160 424 L160 560 L125 560 Q119 560.5 117.5 556 Z" stroke="#fff" stroke-width="0.01" fill="#fff" />
<path d="M117.5 556 Q118.6 559.6 122.6 558.4 L156.7 537.4" stroke="#161616" stroke-width="1.4" fill="none" />
<path d="M117.5 433L117.5 556" stroke="#161616" stroke-width="1.4" fill="none"/>
<path d="M117.5 433 Q118 427.4 122.6 424.6 L126 422.5 L140 423.6" stroke="#161616" stroke-width="1.4" fill="none" />
<path d="M137 424.2 L126 430.2 Q123.8 431.6 124 434.4 L124 437.8 Q125 440.2 127.6 441 Q132.6 442.8 132.7 448.6 Q132 454.6 127.4 456.8 Q124.2 458.2 124 461 L124 511.6 Q125 514.4 127.6 515.2 Q132.6 517 132.5 522.8 Q131.8 528.8 127.4 531 Q124.2 532.4 124 535.2 L124 544.6 Q124.4 548 127.6 547 L155.4 531.2" stroke="#161616" stroke-width="1.4" fill="none" />
<ellipse cx="124.8" cy="449.4" rx="2.9" ry="4.9" stroke="#161616" stroke-width="1.4" fill="#fff" transform="rotate(22 124.8 449.4)"/>
<ellipse cx="124.8" cy="523.6" rx="2.9" ry="4.9" stroke="#161616" stroke-width="1.4" fill="#fff" transform="rotate(22 124.8 523.6)"/>
<path d="M167.86 568.15L201.81 548.55L203.05 547.95L204.39 547.54L205.81 547.31L207.31 547.28L208.86 547.43L210.47 547.77L212.11 548.30L213.78 549.01L215.47 549.90L217.15 550.96L218.82 552.17L220.47 553.55L222.07 555.06L223.63 556.70L225.12 558.46L226.54 560.33L227.88 562.28L229.12 564.32L230.26 566.41L231.29 568.54L232.19 570.71L232.97 572.88L233.61 575.05L234.12 577.20L234.49 579.31L234.71 581.36L234.78 583.35L234.71 585.25L234.49 587.05L234.12 588.74L233.61 590.30L232.97 591.73L232.19 593.01L231.29 594.12L230.26 595.08L229.12 595.85L195.18 615.45L195.18 615.45L193.93 616.05L192.60 616.46L191.18 616.69L189.68 616.72L188.13 616.57L186.52 616.23L184.87 615.70L183.20 614.99L181.52 614.10L179.84 613.04L178.17 611.83L176.52 610.45L174.91 608.94L173.36 607.30L171.86 605.54L170.44 603.67L169.11 601.72L167.86 599.68L166.73 597.59L165.70 595.46L164.80 593.29L164.02 591.12L163.37 588.95L162.87 586.80L162.50 584.69L162.28 582.64L162.21 580.65L162.28 578.75L162.50 576.95L162.87 575.26L163.37 573.70L164.02 572.27L164.80 570.99L165.70 569.88L166.73 568.92L167.86 568.15Z" stroke="#fff" stroke-width="0.01" fill="#fff" />
<path d="M167.86 568.15L201.81 548.55" stroke="#161616" stroke-width="1.4" fill="none" />
<path d="M195.18 615.45L229.12 595.85" stroke="#161616" stroke-width="1.4" fill="none" />
<path d="M201.81 548.55L203.05 547.95L204.39 547.54L205.81 547.31L207.31 547.28L208.86 547.43L210.47 547.77L212.11 548.30L213.78 549.01L215.47 549.90L217.15 550.96L218.82 552.17L220.47 553.55L222.07 555.06L223.63 556.70L225.12 558.46L226.54 560.33L227.88 562.28L229.12 564.32L230.26 566.41L231.29 568.54L232.19 570.71L232.97 572.88L233.61 575.05L234.12 577.20L234.49 579.31L234.71 581.36L234.78 583.35L234.71 585.25L234.49 587.05L234.12 588.74L233.61 590.30L232.97 591.73L232.19 593.01L231.29 594.12L230.26 595.08L229.12 595.85" stroke="#161616" stroke-width="1.4" fill="none" />
<path d="M195.18 615.45L193.93 616.05L192.60 616.46L191.18 616.69L189.68 616.72L188.13 616.57L186.52 616.23L184.87 615.70L183.20 614.99L181.52 614.10L179.84 613.04L178.17 611.83L176.52 610.45L174.91 608.94L173.36 607.30L171.86 605.54L170.44 603.67L169.11 601.72L167.86 599.68L166.73 597.59L165.70 595.46L164.80 593.29L164.02 591.12L163.37 588.95L162.87 586.80L162.50 584.69L162.28 582.64L162.21 580.65L162.28 578.75L162.50 576.95L162.87 575.26L163.37 573.70L164.02 572.27L164.80 570.99L165.70 569.88L166.73 568.92L167.86 568.15" stroke="#161616" stroke-width="1.4" fill="none" />
<path d="M153.3 588 L153.3 643.5 L164 647.8 L173.6 647.8 L209.9 628.6 L209.9 558 L153.3 575 Z" stroke="#161616" stroke-width="1.4" fill="#fff" />
<path d="M162.2 586 L162.2 646.6 M164.2 586.6 L164.2 647.6" stroke="#161616" stroke-width="0.78" fill="none" />
<path d="M173.6 587 L173.6 647.7" stroke="#161616" stroke-width="1.4" fill="none" />
<path d="M178.9 606.6 Q179 602.2 182.6 600 L200.6 589.8 Q204.9 587.8 205 592.4 L205 616.2 Q204.9 620 201.6 622 L183.4 632.6 Q179 634.6 178.9 630.4 Z" stroke="#161616" stroke-width="1.9" fill="#fff" />
<path d="M181.6 610.4 L195.6 602.8 L195.2 601.2 L202.4 600.4 L197 606.2 L196.4 604.8 L181.9 612.8 Z" stroke="#161616" stroke-width="1.0" fill="#fff" />
<path d="M4.6 -4.9 A2.7 3.0 0 1 0 4.6 -1.5 M7.0 0 V-6.4 H10.6 M7.0 -3.3 H10.0 M12.2 -5.2 Q14 -7.3 15.6 -5.4 Q16.2 -3.6 13.8 -3.3 Q16.6 -3 15.8 -1 Q14.2 0.8 12.0 -1.2 M18.2 0 V-6.4 L20.7 -0.8 L23.2 -6.4 V0" transform="matrix(0.87 -0.46 0 1 182.1 627.4)" stroke="#0d0d0d" stroke-width="1.75" fill="none" stroke-linejoin="round" stroke-linecap="butt"/>
<path d="M109.67 601.75L135.82 586.65L137.06 586.05L138.40 585.64L139.82 585.41L141.32 585.38L142.87 585.53L144.48 585.87L146.12 586.40L147.79 587.11L149.48 588.00L151.16 589.06L152.83 590.27L154.48 591.65L156.08 593.16L157.64 594.80L159.13 596.56L160.55 598.43L161.89 600.38L163.13 602.42L164.27 604.51L165.30 606.64L166.20 608.81L166.98 610.98L167.63 613.15L168.13 615.30L168.50 617.41L168.72 619.46L168.79 621.45L168.72 623.35L168.50 625.15L168.13 626.84L167.63 628.40L166.98 629.83L166.20 631.11L165.30 632.22L164.27 633.18L163.13 633.95L136.98 649.05L136.98 649.05L135.74 649.65L134.40 650.06L132.98 650.29L131.49 650.32L129.93 650.17L128.32 649.83L126.68 649.30L125.01 648.59L123.32 647.70L121.64 646.64L119.97 645.43L118.33 644.05L116.72 642.54L115.16 640.90L113.67 639.14L112.25 637.27L110.91 635.32L109.67 633.28L108.53 631.19L107.51 629.06L106.60 626.89L105.82 624.72L105.18 622.55L104.67 620.40L104.31 618.29L104.09 616.24L104.01 614.25L104.09 612.35L104.31 610.55L104.67 608.86L105.18 607.30L105.82 605.87L106.60 604.59L107.51 603.48L108.53 602.52L109.67 601.75Z" stroke="#fff" stroke-width="0.01" fill="#fff" />
<path d="M109.67 601.75L135.82 586.65" stroke="#161616" stroke-width="1.4" fill="none" />
<path d="M136.98 649.05L163.13 633.95" stroke="#161616" stroke-width="1.4" fill="none" />
<path d="M135.82 586.65L137.06 586.05L138.40 585.64L139.82 585.41L141.32 585.38L142.87 585.53L144.48 585.87L146.12 586.40L147.79 587.11L149.48 588.00L151.16 589.06L152.83 590.27L154.48 591.65L156.08 593.16L157.64 594.80L159.13 596.56L160.55 598.43L161.89 600.38L163.13 602.42L164.27 604.51L165.30 606.64L166.20 608.81L166.98 610.98L167.63 613.15L168.13 615.30L168.50 617.41L168.72 619.46L168.79 621.45L168.72 623.35L168.50 625.15L168.13 626.84L167.63 628.40L166.98 629.83L166.20 631.11L165.30 632.22L164.27 633.18L163.13 633.95" stroke="#161616" stroke-width="1.4" fill="none" />
<path d="M136.98 649.05L135.74 649.65L134.40 650.06L132.98 650.29L131.49 650.32L129.93 650.17L128.32 649.83L126.68 649.30L125.01 648.59L123.32 647.70L121.64 646.64L119.97 645.43L118.33 644.05L116.72 642.54L115.16 640.90L113.67 639.14L112.25 637.27L110.91 635.32L109.67 633.28L108.53 631.19L107.51 629.06L106.60 626.89L105.82 624.72L105.18 622.55L104.67 620.40L104.31 618.29L104.09 616.24L104.01 614.25L104.09 612.35L104.31 610.55L104.67 608.86L105.18 607.30L105.82 605.87L106.60 604.59L107.51 603.48L108.53 602.52L109.67 601.75" stroke="#161616" stroke-width="1.4" fill="none" />
<path d="M123.7 596 L125.7 585 Q127.4 577.4 133 575 L144.3 580.7 Q149.6 583.4 151.3 587.4 L151.3 594.3 L136.3 603.4 Z" stroke="#161616" stroke-width="1.4" fill="#fff" />
<path d="M144.3 580.7 Q137.4 585.4 137 593 L136.3 603.4" stroke="#161616" stroke-width="1.9" fill="none" />
<path d="M133.4 575.2 L144.3 580.7" stroke="#161616" stroke-width="1.9" fill="none" />
<path d="M126 590.7 L136.6 597" stroke="#161616" stroke-width="0.9099999999999999" fill="none" />
<ellipse cx="145" cy="591.3" rx="4.6" ry="6.3" stroke="#161616" stroke-width="1.4" fill="#fff" transform="rotate(18 145 591.3)"/>
<path d="M145.69 596.42L145.29 596.56L144.88 596.64L144.48 596.66L144.10 596.62L143.72 596.53L143.37 596.37L143.04 596.16L142.74 595.90L142.46 595.59L142.22 595.23L142.02 594.83L141.85 594.39L141.73 593.91L141.65 593.41L141.61 592.89L141.61 592.35L141.66 591.80L141.75 591.25L141.88 590.70L142.05 590.16L142.26 589.64L142.51 589.13L142.79 588.66L143.10 588.21L143.43 587.81L143.79 587.44L144.17 587.13L144.56 586.86L144.96 586.64L145.36 586.48L145.77 586.38" stroke="#161616" stroke-width="0.8450000000000001" fill="none" />
<ellipse cx="169" cy="559.5" rx="42" ry="25.5" stroke="#161616" stroke-width="1.4" fill="#fff"/>
<ellipse cx="169" cy="558" rx="40.5" ry="23.4" stroke="#161616" stroke-width="0.9099999999999999" fill="#fff"/>
<ellipse cx="169" cy="556.6" rx="39" ry="21" stroke="#161616" stroke-width="0.9099999999999999" fill="#fff"/>
<path d="M133.4 520 L133.4 550 L130.4 554 L130.4 565.2 L158.5 577.2 L195.8 570 L207 554 L207 505 L133.4 505 Z" stroke="#fff" stroke-width="0.01" fill="#fff" />
<path d="M130.4 552 L130.4 565.2 L158.5 577.2 L195.8 570 L207 554 L207 505" stroke="#161616" stroke-width="1.4" fill="none" />
<path d="M158.5 524 L158.5 577.2 M195.8 524 L195.8 570" stroke="#161616" stroke-width="1.4" fill="none" />
<path d="M124 535 L124 544.6 Q124.4 548 127.6 547 L155 531.5 L155 538.2 L122.6 558.4 Q118.6 559.6 117.5 556 L117.5 535 Z" stroke="#fff" stroke-width="0.01" fill="#fff" />
<path d="M117.5 528 L117.5 556 Q118.6 559.6 122.6 558.4 L155 538.2" stroke="#161616" stroke-width="1.4" fill="none" />
<path d="M124 535.2 L124 544.6 Q124.4 548 127.6 547 L155 531.5" stroke="#161616" stroke-width="1.4" fill="none" />
<path d="M125.9 508.8 Q139 517.6 152.9 521.6 Q169.4 524.4 187 520.8 Q202 515 209.4 504 L212.4 494.2 L212.4 498 Q213.8 497.4 216 495.6 L216.8 504.4 Q211 508 208.8 512.8 Q207.6 518 206.2 523.2 Q199 531 195 532.8 Q188 537 179 537.6 L171 538.2 L171 527.4 L155 531.4 Q139 522.6 125.9 511.4 Z" stroke="#161616" stroke-width="1.4" fill="#fff" />
<path d="M216 495.6 Q212.4 498 210.4 501.8" stroke="#161616" stroke-width="1.4" fill="none" />
<path d="M155 531.4 L171 527.3 L171 536 L155 538.2 Z" stroke="#161616" stroke-width="1.4" fill="#fff" />
<path d="M125.9 484 L125.9 503.2 L152.9 520.8 L197.4 516.8 L212.5 499.2 L212.5 484 Z" stroke="#161616" stroke-width="1.4" fill="#fff" />
<path d="M125.90 484.00L126.14 481.70L126.85 479.43L128.03 477.20L129.66 475.05L131.73 473.00L134.21 471.07L137.07 469.28L140.29 467.65L143.83 466.20L147.65 464.95L151.71 463.90L155.96 463.08L160.36 462.48L164.85 462.12L169.40 462.00L173.95 462.12L178.44 462.48L182.84 463.08L187.09 463.90L191.15 464.95L194.97 466.20L198.51 467.65L201.73 469.28L204.59 471.07L207.07 473.00L209.14 475.05L210.77 477.20L211.95 479.43L212.66 481.70L212.90 484.00" stroke="#fff" stroke-width="0.01" fill="#fff" />
<path d="M125.90 484.00L126.14 481.67L126.88 479.36L128.09 477.11L129.76 474.94L131.89 472.86L134.43 470.91L137.37 469.11L140.67 467.48L144.29 466.03L148.20 464.79L152.34 463.76L156.68 462.96L161.16 462.40L165.73 462.08L170.35 462.01L174.95 462.18L179.49 462.60L183.92 463.26L188.18 464.16L192.24 465.28L196.03 466.60L199.53 468.13L202.68 469.83L205.46 471.70" stroke="#161616" stroke-width="1.4" fill="none" />
<path d="M205.5 471.7 L212.5 479.4 L212.5 499.2" stroke="#161616" stroke-width="1.4" fill="none" />
<path d="M205.5 471.7 L213.5 471 L213.5 479.4 L212.5 479.4 Z" stroke="#fff" stroke-width="0.01" fill="#fff" />
<path d="M125.9 489.4 Q141 495.6 152.9 508 Q176 505 197.4 502.4 Q207.4 492.6 212.5 479.8" stroke="#161616" stroke-width="1.4" fill="none" />
<path d="M152.9 508 L152.9 520.8 M197.4 502.4 L197.4 516.8" stroke="#161616" stroke-width="1.4" fill="none" />
<ellipse cx="169.4" cy="483.4" rx="40.2" ry="18.6" stroke="#161616" stroke-width="1.4" fill="#fff"/>
<ellipse cx="169.2" cy="476.8" rx="29.4" ry="14.4" stroke="#161616" stroke-width="1.4" fill="#fff"/>
<path d="M195.70 477.48L195.30 478.78L194.62 480.05L193.65 481.29L192.40 482.47L190.89 483.58L189.14 484.60L187.17 485.54L185.00 486.38L182.64 487.10L180.14 487.70L177.51 488.18L174.80 488.52L172.01 488.73L169.20 488.80L166.39 488.73L163.60 488.52L160.89 488.18L158.26 487.70L155.76 487.10L153.40 486.38L151.23 485.54L149.26 484.60L147.51 483.58L146.00 482.47L144.75 481.29L143.78 480.05L143.10 478.78L142.70 477.48" stroke="#161616" stroke-width="0.8450000000000001" fill="none" />
<path d="M193.60 476.20L193.47 477.31L193.07 478.40L192.41 479.48L191.49 480.51L190.33 481.50L188.94 482.43L187.33 483.29L185.53 484.08L183.54 484.78L181.40 485.38L179.12 485.88L176.74 486.28L174.27 486.57L171.75 486.74L169.20 486.80L166.65 486.74L164.13 486.57L161.66 486.28L159.28 485.88L157.00 485.38L154.86 484.78L152.87 484.08L151.07 483.29L149.46 482.43L148.07 481.50L146.91 480.51L145.99 479.48L145.33 478.40L144.93 477.31L144.80 476.20" stroke="#161616" stroke-width="1.4" fill="none" />
<path d="M147.1 473.6 L146.2 458.7 Q150.6 453.8 158.3 452.1 Q169 449.8 179.8 452.1 Q187.4 453.8 191.5 458.2 L191 471.7 L191 478.3 Q181 484 169.5 486.7 Q157 485 147.1 480.1 Z" stroke="#161616" stroke-width="1.4" fill="#fff" />
<path d="M147.1 473.6 Q158 476 169.5 480.6 Q181 476.4 191 471.7 M169.5 480.6 L169.5 486.7" stroke="#161616" stroke-width="1.4" fill="none" />
<ellipse cx="169.1" cy="464.3" rx="20.3" ry="9.8" stroke="#161616" stroke-width="1.4" fill="#fff"/>
<ellipse cx="169.1" cy="463" rx="10.5" ry="5.5" stroke="#161616" stroke-width="1.4" fill="#fff"/>
<path d="M160.3 464 L160.3 449.6 A8.6 3.0 0 0 1 177.5 449.6 L177.5 464 Q169 468.6 160.3 464 Z" stroke="#161616" stroke-width="1.4" fill="#fff" />
<path d="M160.4 449.8 A8.6 3.0 0 0 0 177.4 449.8" stroke="#161616" stroke-width="0.8450000000000001" fill="none" />
<path d="M162.5 444 L162.5 448.6 A6.5 2.3 0 0 0 175.6 448.6 L175.6 444 Z" stroke="#161616" stroke-width="1.26" fill="#fff" />
<rect x="162.6" y="410" width="12.8" height="34.6" fill="#141414" stroke="#141414" stroke-width="0.8"/>
<path d="M163.4 421.6 Q169 423.20000000000005 174.6 421.6" stroke="#8a8a8a" stroke-width="0.5" fill="none" />
<path d="M163.4 423.6 Q169 425.20000000000005 174.6 423.6" stroke="#8a8a8a" stroke-width="0.5" fill="none" />
<path d="M163.4 425.6 Q169 427.20000000000005 174.6 425.6" stroke="#8a8a8a" stroke-width="0.5" fill="none" />
<path d="M163.4 427.6 Q169 429.20000000000005 174.6 427.6" stroke="#8a8a8a" stroke-width="0.5" fill="none" />
<path d="M163.4 429.6 Q169 431.20000000000005 174.6 429.6" stroke="#8a8a8a" stroke-width="0.5" fill="none" />
<path d="M163.4 431.6 Q169 433.20000000000005 174.6 431.6" stroke="#8a8a8a" stroke-width="0.5" fill="none" />
<path d="M163.4 433.6 Q169 435.20000000000005 174.6 433.6" stroke="#8a8a8a" stroke-width="0.5" fill="none" />
<path d="M163.4 435.6 Q169 437.20000000000005 174.6 435.6" stroke="#8a8a8a" stroke-width="0.5" fill="none" />
<path d="M163.4 437.6 Q169 439.20000000000005 174.6 437.6" stroke="#8a8a8a" stroke-width="0.5" fill="none" />
<path d="M163.4 439.6 Q169 441.20000000000005 174.6 439.6" stroke="#8a8a8a" stroke-width="0.5" fill="none" />
<path d="M163.4 441.6 Q169 443.20000000000005 174.6 441.6" stroke="#8a8a8a" stroke-width="0.5" fill="none" />
<path d="M163.4 443.6 Q169 445.20000000000005 174.6 443.6" stroke="#8a8a8a" stroke-width="0.5" fill="none" />
<path d="M73.2 392.5 C 94.2 413, 130.2 425.6, 168.6 425.6 C 207 425.6, 243 413, 264 392.5 L264 360 L73.2 360 Z" stroke="#161616" stroke-width="1.4" fill="#fff" />
<path d="M74 391 C 100 407, 134 417, 168.6 417 C 203 417, 238 407, 264 391" stroke="#2a2a2a" stroke-width="0.65" fill="none" />
<path d="M102.5 400 L102.5 407.5 Q102.5 410 106.5 411.2 L113.5 411.8 Q118.5 411 119.0 407.5 L119.0 400 Z" stroke="#161616" stroke-width="1.4" fill="#fff" />
<path d="M105.0 409.4 Q110.5 413.6 117.0 409.4" stroke="#111" stroke-width="2.3" fill="none" />
<path d="M216 400 L216 407.5 Q216 410 220 411.2 L227 411.8 Q232 411 232.5 407.5 L232.5 400 Z" stroke="#161616" stroke-width="1.4" fill="#fff" />
<path d="M218.5 409.4 Q224 413.6 230.5 409.4" stroke="#111" stroke-width="2.3" fill="none" />
<ellipse cx="168.8" cy="316.4" rx="164.5" ry="94.7" stroke="#161616" stroke-width="1.4" fill="#fff"/>
<ellipse cx="168.8" cy="311.09999999999997" rx="164.5" ry="94.7" stroke="#161616" stroke-width="1.4" fill="#fff"/>
<ellipse cx="168.8" cy="305.7" rx="164.5" ry="94.7" stroke="#161616" stroke-width="1.4" fill="#fff"/>
<ellipse cx="168.8" cy="304" rx="127.5" ry="75" stroke="#2a2a2a" stroke-width="0.65" fill="none"/>
<path d="M51.80 299.60L51.80 274.00L53.75 259.55L55.70 253.66L57.65 249.22L59.60 245.53L61.55 242.33L63.50 239.48L65.45 236.91L67.40 234.55L69.35 232.38L71.30 230.35L73.25 228.46L75.20 226.68L77.15 225.01L79.10 223.42L81.05 221.92L83.00 220.50L84.95 219.15L86.90 217.86L88.85 216.63L90.80 215.46L92.75 214.34L94.70 213.27L96.65 212.25L98.60 211.28L100.55 210.34L102.50 209.44L104.45 208.59L106.40 207.77L108.35 206.98L110.30 206.23L112.25 205.52L114.20 204.83L116.15 204.18L118.10 203.56L120.05 202.96L122.00 202.40L123.95 201.86L125.90 201.35L127.85 200.86L129.80 200.40L131.75 199.97L133.70 199.56L135.65 199.18L137.60 198.82L139.55 198.48L141.50 198.16L143.45 197.87L145.40 197.60L147.35 197.36L149.30 197.13L151.25 196.93L153.20 196.75L155.15 196.59L157.10 196.46L159.05 196.34L161.00 196.25L162.95 196.17L164.90 196.12L166.85 196.09L168.80 196.08L170.75 196.09L172.70 196.12L174.65 196.17L176.60 196.25L178.55 196.34L180.50 196.46L182.45 196.59L184.40 196.75L186.35 196.93L188.30 197.13L190.25 197.36L192.20 197.60L194.15 197.87L196.10 198.16L198.05 198.48L200.00 198.82L201.95 199.18L203.90 199.56L205.85 199.97L207.80 200.40L209.75 200.86L211.70 201.35L213.65 201.86L215.60 202.40L217.55 202.96L219.50 203.56L221.45 204.18L223.40 204.83L225.35 205.52L227.30 206.23L229.25 206.98L231.20 207.77L233.15 208.59L235.10 209.44L237.05 210.34L239.00 211.28L240.95 212.25L242.90 213.27L244.85 214.34L246.80 215.46L248.75 216.63L250.70 217.86L252.65 219.15L254.60 220.50L256.55 221.92L258.50 223.42L260.45 225.01L262.40 226.68L264.35 228.46L266.30 230.35L268.25 232.38L270.20 234.55L272.15 236.91L274.10 239.48L276.05 242.33L278.00 245.53L279.95 249.22L281.90 253.66L283.85 259.55L285.80 274.00L285.80 299.60L285.80 299.60L285.44 304.79L284.36 309.96L282.57 315.05L280.07 320.06L276.89 324.93L273.05 329.65L268.56 334.19L263.45 338.51L257.77 342.59L251.53 346.41L244.79 349.94L237.57 353.16L229.93 356.04L221.92 358.58L213.57 360.76L204.95 362.56L196.11 363.97L187.10 364.98L177.98 365.60L168.80 365.80L159.62 365.60L150.50 364.98L141.49 363.97L132.65 362.56L124.03 360.76L115.68 358.58L107.67 356.04L100.03 353.16L92.81 349.94L86.07 346.41L79.83 342.59L74.15 338.51L69.04 334.19L64.55 329.65L60.71 324.93L57.53 320.06L55.03 315.05L53.24 309.96L52.16 304.79L51.80 299.60Z" stroke="#fff" stroke-width="0.01" fill="#fff" />
<path d="M285.80 299.60L285.16 306.52L283.24 313.36L280.07 320.06L275.68 326.53L270.12 332.70L263.45 338.51L255.75 343.90L247.09 348.80L237.57 353.16L227.30 356.93L216.39 360.08L204.95 362.56L193.13 364.35L181.03 365.44L168.80 365.80L156.57 365.44L144.47 364.35L132.65 362.56L121.21 360.08L110.30 356.93L100.03 353.16L90.51 348.80L81.85 343.90L74.15 338.51L67.48 332.70L61.92 326.53L57.53 320.06L54.36 313.36L52.44 306.52L51.80 299.60" stroke="#2a2a2a" stroke-width="0.65" fill="none" />
<path d="M285.80 274.00L285.16 280.92L283.24 287.76L280.07 294.46L275.68 300.93L270.12 307.10L263.45 312.91L255.75 318.30L247.09 323.20L237.57 327.56L227.30 331.33L216.39 334.48L204.95 336.96L193.13 338.75L181.03 339.84L168.80 340.20L156.57 339.84L144.47 338.75L132.65 336.96L121.21 334.48L110.30 331.33L100.03 327.56L90.51 323.20L81.85 318.30L74.15 312.91L67.48 307.10L61.92 300.93L57.53 294.46L54.36 287.76L52.44 280.92L51.80 274.00" stroke="#2a2a2a" stroke-width="0.65" fill="none" />
<ellipse cx="168.8" cy="254" rx="93" ry="55" stroke="#2a2a2a" stroke-width="0.65" fill="none"/>
<path d="M51.80 299.60L51.80 274.00L53.75 259.55L55.70 253.66L57.65 249.22L59.60 245.53L61.55 242.33L63.50 239.48L65.45 236.91L67.40 234.55L69.35 232.38L71.30 230.35L73.25 228.46L75.20 226.68L77.15 225.01L79.10 223.42L81.05 221.92L83.00 220.50L84.95 219.15L86.90 217.86L88.85 216.63L90.80 215.46L92.75 214.34L94.70 213.27L96.65 212.25L98.60 211.28L100.55 210.34L102.50 209.44L104.45 208.59L106.40 207.77L108.35 206.98L110.30 206.23L112.25 205.52L114.20 204.83L116.15 204.18L118.10 203.56L120.05 202.96L122.00 202.40L123.95 201.86L125.90 201.35L127.85 200.86L129.80 200.40L131.75 199.97L133.70 199.56L135.65 199.18L137.60 198.82L139.55 198.48L141.50 198.16L143.45 197.87L145.40 197.60L147.35 197.36L149.30 197.13L151.25 196.93L153.20 196.75L155.15 196.59L157.10 196.46L159.05 196.34L161.00 196.25L162.95 196.17L164.90 196.12L166.85 196.09L168.80 196.08L170.75 196.09L172.70 196.12L174.65 196.17L176.60 196.25L178.55 196.34L180.50 196.46L182.45 196.59L184.40 196.75L186.35 196.93L188.30 197.13L190.25 197.36L192.20 197.60L194.15 197.87L196.10 198.16L198.05 198.48L200.00 198.82L201.95 199.18L203.90 199.56L205.85 199.97L207.80 200.40L209.75 200.86L211.70 201.35L213.65 201.86L215.60 202.40L217.55 202.96L219.50 203.56L221.45 204.18L223.40 204.83L225.35 205.52L227.30 206.23L229.25 206.98L231.20 207.77L233.15 208.59L235.10 209.44L237.05 210.34L239.00 211.28L240.95 212.25L242.90 213.27L244.85 214.34L246.80 215.46L248.75 216.63L250.70 217.86L252.65 219.15L254.60 220.50L256.55 221.92L258.50 223.42L260.45 225.01L262.40 226.68L264.35 228.46L266.30 230.35L268.25 232.38L270.20 234.55L272.15 236.91L274.10 239.48L276.05 242.33L278.00 245.53L279.95 249.22L281.90 253.66L283.85 259.55L285.80 274.00L285.80 299.60" stroke="#161616" stroke-width="1.4" fill="none" />
<path d="M187.39999999999998 259.2 L187.39999999999998 276 A33.3 21.6 0 0 0 254.0 276 L254.0 259.2 A33.3 21.6 0 0 0 187.39999999999998 259.2 Z" stroke="#161616" stroke-width="1.4" fill="#fff" />
<path d="M254.00 259.20L253.82 261.46L253.27 263.69L252.37 265.87L251.12 267.99L249.54 270.00L247.64 271.90L245.45 273.65L242.98 275.25L240.27 276.67L237.35 277.91L234.24 278.93L230.99 279.74L227.62 280.33L224.18 280.68L220.70 280.80L217.22 280.68L213.78 280.33L210.41 279.74L207.16 278.93L204.05 277.91L201.13 276.67L198.42 275.25L195.95 273.65L193.76 271.90L191.86 270.00L190.28 267.99L189.03 265.87L188.13 263.69L187.58 261.46L187.40 259.20" stroke="#2a2a2a" stroke-width="0.65" fill="none" />
<ellipse cx="220.79999999999998" cy="253.4" rx="25.2" ry="14.5" stroke="#161616" stroke-width="1.4" fill="none"/>
<path d="M24.40 267.20L24.40 274.10L33.60 278.90L45.20 276.90L48.80 270.50L48.80 263.60L40.40 258.00L29.50 259.00Z" stroke="#161616" stroke-width="1.4" fill="#fff" stroke-linejoin="round"/>
<path d="M24.4 267.2 L27.92 261.55 Q29.5 259 32.49 258.73 L38.01 258.22 Q40.4 258 42.40 259.33 L48.8 263.6 L45.2 270 L33.6 272 Z" stroke="#161616" stroke-width="1.4" fill="#fff" />
<path d="M33.6 272 L33.6 278.9 M45.2 270 L45.2 276.9" stroke="#161616" stroke-width="1.26" fill="none" />
<ellipse cx="36.599999999999994" cy="264.75" rx="10.6" ry="5.95" stroke="#161616" stroke-width="0.78" fill="none"/>
<path d="M21.60 332.00L21.60 338.20L28.00 342.20L41.00 341.20L48.00 336.20L48.00 330.00L40.00 323.00L26.00 324.40Z" stroke="#161616" stroke-width="1.4" fill="#fff" stroke-linejoin="round"/>
<path d="M21.6 332 L24.50 327.00 Q26 324.4 28.99 324.10 L37.61 323.24 Q40 323 41.81 324.58 L48 330 L41 335 L28 336 Z" stroke="#161616" stroke-width="1.4" fill="#fff" />
<path d="M28 336 L28 342.2 M41 335 L41 341.2" stroke="#161616" stroke-width="1.26" fill="none" />
<ellipse cx="34.8" cy="329.6" rx="11.6" ry="5.600000000000006" stroke="#161616" stroke-width="0.78" fill="none"/>
<path d="M98.00 377.00L98.00 383.20L102.00 387.20L115.00 388.20L124.00 383.20L124.00 377.00L116.00 369.00L103.00 370.00Z" stroke="#161616" stroke-width="1.4" fill="#fff" stroke-linejoin="round"/>
<path d="M98 377 L101.26 372.44 Q103 370 105.99 369.77 L113.61 369.18 Q116 369 117.70 370.70 L124 377 L115 382 L102 381 Z" stroke="#161616" stroke-width="1.4" fill="#fff" />
<path d="M102 381 L102 387.2 M115 382 L115 388.2" stroke="#161616" stroke-width="1.26" fill="none" />
<ellipse cx="111.0" cy="375.5" rx="11.4" ry="5.7" stroke="#161616" stroke-width="0.78" fill="none"/>
<path d="M210.80 377.00L210.80 383.60L212.80 388.60L223.00 389.60L233.00 384.60L233.00 378.00L228.00 370.60L215.30 370.60Z" stroke="#161616" stroke-width="1.4" fill="#fff" stroke-linejoin="round"/>
<path d="M210.8 377 L213.57 373.05 Q215.3 370.6 218.30 370.60 L225.60 370.60 Q228 370.6 229.34 372.59 L233 378 L223 383 L212.8 382 Z" stroke="#161616" stroke-width="1.4" fill="#fff" />
<path d="M212.8 382 L212.8 388.6 M223 383 L223 389.6" stroke="#161616" stroke-width="1.26" fill="none" />
<ellipse cx="221.9" cy="376.55" rx="9.499999999999995" ry="5.649999999999989" stroke="#161616" stroke-width="0.78" fill="none"/>
<path d="M288.80 335.00L288.80 341.20L299.00 346.20L309.00 345.20L314.00 340.20L314.00 334.00L307.80 325.80L293.90 327.50Z" stroke="#161616" stroke-width="1.4" fill="#fff" stroke-linejoin="round"/>
<path d="M288.8 335 L292.21 329.98 Q293.9 327.5 296.88 327.14 L305.42 326.09 Q307.8 325.8 309.25 327.71 L314 334 L309 339 L299 340 Z" stroke="#161616" stroke-width="1.4" fill="#fff" />
<path d="M299 340 L299 346.2 M309 339 L309 345.2" stroke="#161616" stroke-width="1.26" fill="none" />
<ellipse cx="301.4" cy="333.075" rx="10.999999999999995" ry="6.124999999999997" stroke="#161616" stroke-width="0.78" fill="none"/>
<path d="M290.60 270.50L290.60 276.70L297.70 281.80L311.60 281.80L316.00 276.70L316.00 270.50L309.00 261.70L296.40 263.00Z" stroke="#161616" stroke-width="1.4" fill="#fff" stroke-linejoin="round"/>
<path d="M290.6 270.5 L294.56 265.37 Q296.4 263 299.38 262.69 L306.61 261.95 Q309 261.7 310.49 263.58 L316 270.5 L311.6 275.6 L297.7 275.6 Z" stroke="#161616" stroke-width="1.4" fill="#fff" />
<path d="M297.7 275.6 L297.7 281.8 M311.6 275.6 L311.6 281.8" stroke="#161616" stroke-width="1.26" fill="none" />
<ellipse cx="303.3" cy="268.975" rx="11.099999999999989" ry="6.325000000000014" stroke="#161616" stroke-width="0.78" fill="none"/>
<path d="M123.32 603.10L125.01 604.16L126.68 605.37L128.32 606.75L129.93 608.26L131.49 609.90L132.98 611.66L134.40 613.53L135.74 615.48L136.98 617.52L138.12 619.61L139.14 621.74L140.05 623.91L140.83 626.08L141.47 628.25L141.98 630.40L142.34 632.51L142.56 634.56L142.64 636.55L142.56 638.45L142.34 640.25L141.98 641.94L141.47 643.50L140.83 644.93L140.05 646.21L139.14 647.32L138.12 648.28L136.98 649.05L135.74 649.65L134.40 650.06L132.98 650.29L131.49 650.32L129.93 650.17L128.32 649.83L126.68 649.30L125.01 648.59L123.32 647.70L121.64 646.64L119.97 645.43L118.33 644.05L116.72 642.54L115.16 640.90L113.67 639.14L112.25 637.27L110.91 635.32L109.67 633.28L108.53 631.19L107.51 629.06L106.60 626.89L105.82 624.72L105.18 622.55L104.67 620.40L104.31 618.29L104.09 616.24L104.01 614.25L104.09 612.35L104.31 610.55L104.67 608.86L105.18 607.30L105.82 605.87L106.60 604.59L107.51 603.48L108.53 602.52L109.67 601.75L110.91 601.15L112.25 600.74L113.67 600.51L115.16 600.48L116.72 600.63L118.33 600.97L119.97 601.50L121.64 602.21L123.32 603.10Z" stroke="#161616" stroke-width="1.4" fill="#fff" />
<path d="M123.32 605.80L124.80 606.73L126.27 607.80L127.72 609.00L129.13 610.33L130.50 611.78L131.81 613.33L133.06 614.97L134.24 616.68L135.33 618.47L136.33 620.31L137.23 622.19L138.02 624.09L138.71 626.00L139.27 627.91L139.72 629.79L140.04 631.65L140.23 633.45L140.30 635.20L140.23 636.87L140.04 638.45L139.72 639.94L139.27 641.31L138.71 642.57L138.02 643.69L137.23 644.67L136.33 645.51L135.33 646.19L134.24 646.71L133.06 647.08L131.81 647.27L130.50 647.31L129.13 647.17L127.72 646.87L126.27 646.40L124.80 645.78L123.32 645.00L121.85 644.07L120.38 643.00L118.93 641.80L117.52 640.47L116.15 639.02L114.84 637.47L113.59 635.83L112.41 634.12L111.32 632.33L110.32 630.49L109.42 628.61L108.63 626.71L107.94 624.80L107.37 622.89L106.93 621.01L106.61 619.15L106.42 617.35L106.35 615.60L106.42 613.93L106.61 612.35L106.93 610.86L107.37 609.49L107.94 608.23L108.63 607.11L109.42 606.13L110.32 605.29L111.32 604.61L112.41 604.09L113.59 603.72L114.84 603.53L116.15 603.49L117.52 603.63L118.93 603.93L120.38 604.40L121.85 605.02L123.32 605.80Z" stroke="#2a2a2a" stroke-width="0.65" fill="none" />
<path d="M123.32 611.00L124.41 611.68L125.49 612.47L126.55 613.35L127.59 614.33L128.60 615.39L129.56 616.53L130.48 617.73L131.34 619.00L132.14 620.31L132.88 621.66L133.54 623.04L134.12 624.44L134.63 625.84L135.04 627.24L135.37 628.63L135.61 629.99L135.75 631.32L135.80 632.60L135.75 633.83L135.61 634.99L135.37 636.08L135.04 637.09L134.63 638.01L134.12 638.84L133.54 639.56L132.88 640.17L132.14 640.67L131.34 641.06L130.48 641.33L129.56 641.47L128.60 641.49L127.59 641.39L126.55 641.17L125.49 640.83L124.41 640.37L123.32 639.80L122.24 639.12L121.16 638.33L120.10 637.45L119.06 636.47L118.05 635.41L117.09 634.27L116.17 633.07L115.31 631.80L114.51 630.49L113.77 629.14L113.11 627.76L112.53 626.36L112.02 624.96L111.61 623.56L111.28 622.17L111.04 620.81L110.90 619.48L110.85 618.20L110.90 616.97L111.04 615.81L111.28 614.72L111.61 613.71L112.02 612.79L112.53 611.96L113.11 611.24L113.77 610.63L114.51 610.13L115.31 609.74L116.17 609.47L117.09 609.33L118.05 609.31L119.06 609.41L120.10 609.63L121.16 609.97L122.24 610.43L123.32 611.00Z" stroke="#161616" stroke-width="1.4" fill="#fff" />
<path d="M116.45 610.21L117.26 609.96L118.13 609.82L119.04 609.80L119.99 609.89L120.97 610.10L121.97 610.43L122.99 610.86L124.02 611.40L125.04 612.04L126.06 612.79L127.07 613.62L128.05 614.55L129.00 615.55L129.91 616.62L130.77 617.76L131.59 618.95L132.35 620.19L133.04 621.47L133.67 622.77L134.22 624.09L134.69 625.42L135.08 626.74L135.39 628.05L135.62 629.34L135.75 630.59L135.80 631.80L135.75 632.96L135.62 634.06L135.39 635.09L135.08 636.04L134.69 636.91L134.22 637.69L133.67 638.37L133.04 638.95L132.35 639.42L131.59 639.79L130.77 640.04L129.91 640.18" stroke="#222" stroke-width="0.9" fill="none" />
<path d="M117.70 610.47L118.48 610.23L119.30 610.10L120.16 610.08L121.06 610.17L121.99 610.37L122.94 610.68L123.91 611.09L124.88 611.60L125.86 612.21L126.82 612.92L127.77 613.71L128.70 614.58L129.60 615.53L130.47 616.55L131.29 617.63L132.06 618.76L132.78 619.94L133.44 621.15L134.03 622.38L134.56 623.64L135.01 624.89L135.38 626.15L135.67 627.39L135.89 628.61L136.01 629.80L136.05 630.95L136.01 632.05L135.89 633.09L135.67 634.07L135.38 634.97L135.01 635.80L134.56 636.54L134.03 637.18L133.44 637.73L132.78 638.18L132.06 638.53L131.29 638.77L130.47 638.90" stroke="#222" stroke-width="0.9" fill="none" />
<path d="M118.96 610.73L119.69 610.51L120.47 610.38L121.28 610.37L122.14 610.45L123.02 610.64L123.91 610.93L124.83 611.31L125.75 611.80L126.67 612.38L127.58 613.04L128.48 613.79L129.36 614.62L130.21 615.52L131.03 616.48L131.81 617.51L132.54 618.58L133.22 619.69L133.84 620.83L134.40 622.00L134.90 623.18L135.32 624.37L135.68 625.56L135.95 626.73L136.15 627.89L136.27 629.01L136.31 630.10L136.27 631.14L136.15 632.13L135.95 633.05L135.68 633.90L135.32 634.68L134.90 635.38L134.40 635.99L133.84 636.51L133.22 636.94L132.54 637.27L131.81 637.49L131.03 637.62" stroke="#222" stroke-width="0.9" fill="none" />
<path d="M120.21 610.99L120.90 610.78L121.64 610.67L122.41 610.65L123.21 610.73L124.04 610.90L124.89 611.18L125.75 611.54L126.62 612.00L127.48 612.54L128.34 613.17L129.19 613.88L130.02 614.66L130.82 615.51L131.60 616.42L132.33 617.38L133.02 618.39L133.66 619.43L134.24 620.51L134.77 621.61L135.24 622.73L135.64 623.85L135.97 624.97L136.24 626.08L136.42 627.17L136.54 628.23L136.57 629.25L136.54 630.23L136.42 631.16L136.24 632.03L135.97 632.84L135.64 633.57L135.24 634.23L134.77 634.81L134.24 635.30L133.66 635.70L133.02 636.01L132.33 636.22L131.60 636.33" stroke="#222" stroke-width="0.9" fill="none" />
<path d="M110.20 618.27L118.69 613.37L119.27 613.09L119.89 612.90L120.55 612.79L121.25 612.78L121.98 612.85L122.73 613.01L123.49 613.26L124.27 613.59L125.06 614.00L125.84 614.49L126.62 615.06L127.39 615.70L128.14 616.41L128.86 617.17L129.56 617.99L130.22 618.86L130.85 619.78L131.43 620.72L131.96 621.70L132.43 622.69L132.86 623.70L133.22 624.72L133.52 625.73L133.76 626.73L133.93 627.72L134.03 628.67L134.06 629.60L134.03 630.49L133.93 631.33L133.76 632.11L133.52 632.84L133.22 633.51L132.86 634.10L132.43 634.62L131.96 635.07L131.43 635.43L122.94 640.33L122.94 640.33L122.36 640.61L121.74 640.80L121.07 640.91L120.38 640.92L119.65 640.85L118.90 640.69L118.13 640.44L117.35 640.11L116.57 639.70L115.79 639.21L115.01 638.64L114.24 638.00L113.49 637.29L112.76 636.53L112.07 635.71L111.40 634.84L110.78 633.92L110.20 632.98L109.67 632.00L109.19 631.01L108.77 630.00L108.41 628.98L108.11 627.97L107.87 626.97L107.70 625.98L107.60 625.03L107.56 624.10L107.60 623.21L107.70 622.37L107.87 621.59L108.11 620.86L108.41 620.19L108.77 619.60L109.19 619.08L109.67 618.63L110.20 618.27Z" stroke="#fff" stroke-width="0.01" fill="#fff" />
<path d="M110.20 618.27L118.69 613.37" stroke="#161616" stroke-width="1.4" fill="none" />
<path d="M122.94 640.33L131.43 635.43" stroke="#161616" stroke-width="1.4" fill="none" />
<path d="M122.94 640.33L122.36 640.61L121.74 640.80L121.07 640.91L120.38 640.92L119.65 640.85L118.90 640.69L118.13 640.44L117.35 640.11L116.57 639.70L115.79 639.21L115.01 638.64L114.24 638.00L113.49 637.29L112.76 636.53L112.07 635.71L111.40 634.84L110.78 633.92L110.20 632.98L109.67 632.00L109.19 631.01L108.77 630.00L108.41 628.98L108.11 627.97L107.87 626.97L107.70 625.98L107.60 625.03L107.56 624.10L107.60 623.21L107.70 622.37L107.87 621.59L108.11 620.86L108.41 620.19L108.77 619.60L109.19 619.08L109.67 618.63L110.20 618.27" stroke="#161616" stroke-width="1.4" fill="none" />
<path d="M99.22 614.95L108.74 609.45L123.84 616.64L132.53 635.99L126.13 648.15L116.60 653.65L115.91 652.11L114.88 652.27L113.80 652.29L112.68 652.18L111.52 651.93L110.33 651.55L109.13 651.04L107.91 650.40L106.69 649.64L105.49 648.76L104.30 647.77L103.14 646.68L102.02 645.49L100.94 644.22L99.91 642.87L98.95 641.46L98.05 639.99L97.23 638.48L96.49 636.94L95.84 635.38L95.27 633.81L94.81 632.24L94.44 630.69L94.18 629.17L94.02 627.68L93.97 626.25L94.02 624.88L94.18 623.58L94.44 622.36L94.81 621.23L95.27 620.20L95.84 619.28L96.49 618.47L97.23 617.78L98.05 617.22L98.95 616.79L99.91 616.49Z" stroke="#fff" stroke-width="0.01" fill="#fff" />
<path d="M99.22 614.95L108.74 609.45L123.84 616.64L114.31 622.14Z" stroke="#161616" stroke-width="1.3299999999999998" fill="#fff" />
<path d="M114.31 622.14L123.84 616.64L132.53 635.99L123.01 641.49Z" stroke="#161616" stroke-width="1.3299999999999998" fill="#fff" />
<path d="M123.01 641.49L132.53 635.99L126.13 648.15L116.60 653.65Z" stroke="#161616" stroke-width="1.3299999999999998" fill="#fff" />
<path d="M99.22 614.95L114.31 622.14L123.01 641.49L116.60 653.65L114.24 652.30L113.10 652.24L111.93 652.04L110.72 651.69L109.49 651.21L108.24 650.59L107.00 649.84L105.76 648.97L104.54 647.97L103.34 646.87L102.18 645.67L101.07 644.38L100.01 643.01L99.02 641.57L98.09 640.07L97.25 638.52L96.49 636.94L95.82 635.34L95.25 633.73L94.78 632.13L94.41 630.54L94.15 628.98L94.01 627.47L93.97 626.01L94.04 624.61L94.23 623.29L94.52 622.07L94.93 620.94L95.43 619.91L96.04 619.00L96.74 618.22L97.53 617.56L98.40 617.04Z" stroke="#161616" stroke-width="1.3299999999999998" fill="#fff" />
<path d="M93.87 627.98L101.66 623.48L102.23 623.21L102.84 623.02L103.49 622.92L104.18 622.90L104.89 622.97L105.62 623.13L106.38 623.37L107.14 623.69L107.91 624.10L108.68 624.58L109.44 625.14L110.20 625.77L110.93 626.46L111.64 627.21L112.33 628.02L112.98 628.87L113.59 629.76L114.16 630.69L114.68 631.65L115.15 632.63L115.56 633.62L115.92 634.61L116.21 635.60L116.44 636.59L116.61 637.55L116.71 638.49L116.74 639.40L116.71 640.27L116.61 641.09L116.44 641.87L116.21 642.58L115.92 643.23L115.56 643.82L115.15 644.33L114.68 644.76L114.16 645.12L106.36 649.62L106.36 649.62L105.79 649.89L105.18 650.08L104.53 650.18L103.85 650.20L103.14 650.13L102.40 649.97L101.65 649.73L100.89 649.41L100.12 649.00L99.35 648.52L98.58 647.96L97.83 647.33L97.09 646.64L96.38 645.89L95.70 645.08L95.05 644.23L94.44 643.34L93.87 642.41L93.35 641.45L92.88 640.47L92.47 639.48L92.11 638.49L91.82 637.50L91.58 636.51L91.42 635.55L91.32 634.61L91.28 633.70L91.32 632.83L91.42 632.01L91.58 631.23L91.82 630.52L92.11 629.87L92.47 629.28L92.88 628.77L93.35 628.34L93.87 627.98Z" stroke="#fff" stroke-width="0.01" fill="#fff" />
<path d="M93.87 627.98L101.66 623.48" stroke="#161616" stroke-width="1.4" fill="none" />
<path d="M106.36 649.62L114.16 645.12" stroke="#161616" stroke-width="1.4" fill="none" />
<path d="M106.36 649.62L105.79 649.89L105.18 650.08L104.53 650.18L103.85 650.20L103.14 650.13L102.40 649.97L101.65 649.73L100.89 649.41L100.12 649.00L99.35 648.52L98.58 647.96L97.83 647.33L97.09 646.64L96.38 645.89L95.70 645.08L95.05 644.23L94.44 643.34L93.87 642.41L93.35 641.45L92.88 640.47L92.47 639.48L92.11 638.49L91.82 637.50L91.58 636.51L91.42 635.55L91.32 634.61L91.28 633.70L91.32 632.83L91.42 632.01L91.58 631.23L91.82 630.52L92.11 629.87L92.47 629.28L92.88 628.77L93.35 628.34L93.87 627.98" stroke="#161616" stroke-width="1.4" fill="none" />
<path d="M105.09 628.52L105.95 629.43L106.78 630.41L107.57 631.45L108.32 632.54L109.01 633.67L109.64 634.83L110.21 636.02L110.71 637.22L111.15 638.43L111.51 639.64L111.79 640.83L111.99 642.00L112.11 643.15L112.15 644.25L112.11 645.31L111.99 646.31L111.79 647.25L111.51 648.12L111.15 648.91L110.71 649.62L110.21 650.24L109.64 650.77L109.01 651.20L108.32 651.53" stroke="#222" stroke-width="0.9" fill="none" />
<path d="M106.39 627.77L107.25 628.68L108.08 629.66L108.87 630.70L109.62 631.79L110.31 632.92L110.94 634.08L111.51 635.27L112.01 636.47L112.45 637.68L112.80 638.89L113.09 640.08L113.29 641.25L113.41 642.40L113.45 643.50L113.41 644.56L113.29 645.56L113.09 646.50L112.80 647.37L112.45 648.16L112.01 648.87L111.51 649.49L110.94 650.02L110.31 650.45L109.62 650.78" stroke="#222" stroke-width="0.9" fill="none" />
<path d="M107.69 627.02L108.55 627.93L109.38 628.91L110.17 629.95L110.92 631.04L111.61 632.17L112.24 633.33L112.81 634.52L113.31 635.72L113.75 636.93L114.10 638.14L114.39 639.33L114.59 640.50L114.71 641.65L114.75 642.75L114.71 643.81L114.59 644.81L114.39 645.75L114.10 646.62L113.75 647.41L113.31 648.12L112.81 648.74L112.24 649.27L111.61 649.70L110.92 650.03" stroke="#222" stroke-width="0.9" fill="none" />
<path d="M108.98 626.27L109.85 627.18L110.68 628.16L111.47 629.20L112.21 630.29L112.91 631.42L113.54 632.58L114.11 633.77L114.61 634.97L115.04 636.18L115.40 637.39L115.68 638.58L115.89 639.75L116.01 640.90L116.05 642.00L116.01 643.06L115.89 644.06L115.68 645.00L115.40 645.87L115.04 646.66L114.61 647.37L114.11 647.99L113.54 648.52L112.91 648.95L112.21 649.28" stroke="#222" stroke-width="0.9" fill="none" />
<path d="M110.28 625.52L111.15 626.43L111.98 627.41L112.77 628.45L113.51 629.54L114.20 630.67L114.84 631.83L115.41 633.02L115.91 634.22L116.34 635.43L116.70 636.64L116.98 637.83L117.19 639.00L117.31 640.15L117.35 641.25L117.31 642.31L117.19 643.31L116.98 644.25L116.70 645.12L116.34 645.91L115.91 646.62L115.41 647.24L114.84 647.77L114.20 648.20L113.51 648.53" stroke="#222" stroke-width="0.9" fill="none" />
<path d="M67.78 624.46L88.56 612.46L109.01 622.20L120.78 648.41L112.10 664.89L91.32 676.89L90.14 674.26L88.78 674.48L87.36 674.51L85.87 674.37L84.33 674.04L82.76 673.53L81.16 672.85L79.55 672.00L77.94 670.99L76.34 669.83L74.77 668.52L73.23 667.07L71.74 665.50L70.31 663.81L68.95 662.03L67.68 660.16L66.49 658.22L65.40 656.22L64.42 654.17L63.55 652.10L62.81 650.02L62.19 647.95L61.71 645.89L61.36 643.88L61.15 641.91L61.08 640.01L61.15 638.19L61.36 636.47L61.71 634.85L62.19 633.36L62.81 631.99L63.55 630.77L64.42 629.70L65.40 628.79L66.49 628.05L67.68 627.48L68.95 627.09Z" stroke="#fff" stroke-width="0.01" fill="#fff" />
<path d="M67.78 624.46L88.56 612.46L109.01 622.20L88.22 634.20Z" stroke="#161616" stroke-width="1.4" fill="#fff" />
<path d="M88.22 634.20L109.01 622.20L120.78 648.41L99.99 660.41Z" stroke="#161616" stroke-width="1.4" fill="#fff" />
<path d="M99.99 660.41L120.78 648.41L112.10 664.89L91.32 676.89Z" stroke="#161616" stroke-width="1.4" fill="#fff" />
<path d="M67.78 624.46L88.22 634.20L99.99 660.41L91.32 676.89L87.93 674.52L86.43 674.44L84.87 674.17L83.27 673.72L81.64 673.08L79.99 672.25L78.34 671.26L76.70 670.10L75.08 668.79L73.50 667.33L71.96 665.74L70.49 664.03L69.09 662.21L67.77 660.30L66.54 658.31L65.42 656.27L64.42 654.17L63.53 652.05L62.77 649.92L62.15 647.79L61.67 645.69L61.32 643.63L61.13 641.62L61.08 639.69L61.18 637.84L61.42 636.09L61.81 634.47L62.35 632.97L63.02 631.61L63.82 630.41L64.75 629.37L65.79 628.50L66.95 627.80Z" stroke="#161616" stroke-width="1.4" fill="#fff" />
<path d="M70.28 626.79L71.72 626.76L73.21 626.91L74.75 627.23L76.33 627.74L77.93 628.42L79.55 629.27L81.16 630.29L82.77 631.46L84.35 632.77L85.89 634.23L87.38 635.80L88.81 637.49L90.18 639.28L91.46 641.16L92.65 643.11L93.75 645.12L94.73 647.17L95.60 649.24L96.34 651.33L96.96 653.41L97.45 655.47L97.80 657.50L98.01 659.47L98.08 661.38L98.01 663.20L97.80 664.93L97.45 666.55L96.96 668.05L96.34 669.42L95.60 670.64L94.73 671.71L93.75 672.63L92.65 673.37L91.46 673.95" stroke="#161616" stroke-width="0.8450000000000001" fill="none" />
<path d="M26.89 663.97L72.14 637.84L72.81 637.52L73.54 637.29L74.31 637.17L75.12 637.15L75.96 637.24L76.84 637.42L77.73 637.71L78.64 638.09L79.55 638.57L80.46 639.15L81.37 639.81L82.26 640.55L83.13 641.37L83.98 642.27L84.79 643.22L85.56 644.23L86.28 645.29L86.96 646.40L87.58 647.53L88.13 648.69L88.62 649.86L89.05 651.04L89.40 652.22L89.67 653.39L89.87 654.53L89.99 655.65L90.03 656.72L89.99 657.76L89.87 658.73L89.67 659.65L89.40 660.50L89.05 661.27L88.62 661.96L88.13 662.57L87.58 663.09L86.96 663.51L41.71 689.63L41.71 689.63L41.04 689.96L40.31 690.18L39.54 690.30L38.73 690.32L37.88 690.24L37.01 690.05L36.12 689.77L35.21 689.38L34.30 688.90L33.39 688.33L32.48 687.67L31.59 686.92L30.72 686.10L29.87 685.21L29.06 684.25L28.29 683.24L27.56 682.18L26.89 681.08L26.27 679.94L25.72 678.78L25.23 677.61L24.80 676.43L24.45 675.25L24.18 674.09L23.98 672.94L23.86 671.83L23.82 670.75L23.86 669.72L23.98 668.74L24.18 667.82L24.45 666.98L24.80 666.20L25.23 665.51L25.72 664.90L26.27 664.39L26.89 663.97Z" stroke="#fff" stroke-width="0.01" fill="#fff" />
<path d="M26.89 663.97L72.14 637.84" stroke="#161616" stroke-width="1.4" fill="none" />
<path d="M41.71 689.63L86.96 663.51" stroke="#161616" stroke-width="1.4" fill="none" />
<path d="M72.14 637.84L72.81 637.52L73.54 637.29L74.31 637.17L75.12 637.15L75.96 637.24L76.84 637.42L77.73 637.71L78.64 638.09L79.55 638.57L80.46 639.15L81.37 639.81L82.26 640.55L83.13 641.37L83.98 642.27L84.79 643.22L85.56 644.23L86.28 645.29L86.96 646.40L87.58 647.53L88.13 648.69L88.62 649.86L89.05 651.04L89.40 652.22L89.67 653.39L89.87 654.53L89.99 655.65L90.03 656.72L89.99 657.76L89.87 658.73L89.67 659.65L89.40 660.50L89.05 661.27L88.62 661.96L88.13 662.57L87.58 663.09L86.96 663.51" stroke="#161616" stroke-width="1.4" fill="none" />
<path d="M34.30 664.70L35.21 665.27L36.12 665.93L37.01 666.68L37.88 667.50L38.73 668.39L39.54 669.35L40.31 670.36L41.04 671.42L41.71 672.52L42.33 673.66L42.88 674.82L43.37 675.99L43.80 677.17L44.15 678.35L44.42 679.51L44.62 680.66L44.74 681.77L44.78 682.85L44.74 683.88L44.62 684.86L44.42 685.78L44.15 686.62L43.80 687.40L43.37 688.09L42.88 688.70L42.33 689.21L41.71 689.63L41.04 689.96L40.31 690.18L39.54 690.30L38.73 690.32L37.88 690.24L37.01 690.05L36.12 689.77L35.21 689.38L34.30 688.90L33.39 688.33L32.48 687.67L31.59 686.92L30.72 686.10L29.87 685.21L29.06 684.25L28.29 683.24L27.56 682.18L26.89 681.08L26.27 679.94L25.72 678.78L25.23 677.61L24.80 676.43L24.45 675.25L24.18 674.09L23.98 672.94L23.86 671.83L23.82 670.75L23.86 669.72L23.98 668.74L24.18 667.82L24.45 666.98L24.80 666.20L25.23 665.51L25.72 664.90L26.27 664.39L26.89 663.97L27.56 663.64L28.29 663.42L29.06 663.30L29.87 663.28L30.72 663.36L31.59 663.55L32.48 663.83L33.39 664.22L34.30 664.70Z" stroke="#161616" stroke-width="1.4" fill="#fff" />
<path d="M34.30 667.30L35.02 667.75L35.73 668.27L36.43 668.85L37.11 669.50L37.78 670.20L38.41 670.95L39.02 671.74L39.59 672.58L40.12 673.44L40.60 674.33L41.04 675.24L41.42 676.16L41.76 677.09L42.03 678.01L42.25 678.93L42.40 679.83L42.50 680.70L42.53 681.55L42.50 682.36L42.40 683.13L42.25 683.85L42.03 684.51L41.76 685.12L41.42 685.66L41.04 686.14L40.60 686.55L40.12 686.88L39.59 687.13L39.02 687.31L38.41 687.40L37.78 687.42L37.11 687.35L36.43 687.21L35.73 686.98L35.02 686.68L34.30 686.30L33.58 685.85L32.87 685.33L32.17 684.75L31.49 684.10L30.82 683.40L30.19 682.65L29.58 681.86L29.01 681.02L28.48 680.16L28.00 679.27L27.56 678.36L27.18 677.44L26.84 676.51L26.57 675.59L26.35 674.67L26.20 673.77L26.10 672.90L26.07 672.05L26.10 671.24L26.20 670.47L26.35 669.75L26.57 669.09L26.84 668.48L27.18 667.94L27.56 667.46L28.00 667.05L28.48 666.72L29.01 666.47L29.58 666.29L30.19 666.20L30.82 666.18L31.49 666.25L32.17 666.39L32.87 666.62L33.58 666.92L34.30 667.30Z" stroke="#161616" stroke-width="1.4" fill="#fff" />
<path d="M358 136L358 283.5" stroke="#8c8c8c" stroke-width="1.0" fill="none"/>
<path d="M686.8 136L686.8 283.5" stroke="#8c8c8c" stroke-width="1.0" fill="none"/>
<path d="M358 151.7L686.8 151.7" stroke="#8c8c8c" stroke-width="1.0" fill="none"/>
<path d="M358 151.7L382 148.3L382 155.1Z" fill="#111"/>
<path d="M686.8 151.7L662.8 148.3L662.8 155.1Z" fill="#111"/>
<text x="523.2" y="149.3" font-size="27.5" stroke="#111" stroke-width="0.25">98</text>
<path d="M763 0L583 0L583 1147Q518 1085 412 1023Q306 961 222 930L222 1104Q373 1175 486 1276Q599 1377 646 1472L763 1472Z" transform="translate(507.9 149.3) scale(0.013428 -0.013428)" fill="#111" stroke="#111" stroke-width="18"/>
<ellipse cx="499.5" cy="139.6" rx="5.7" ry="6.6" transform="rotate(20 499.5 139.6)" stroke="#111" stroke-width="1.8" fill="none"/>
<path d="M496.1 149.3L503.4 130.6" stroke="#111" stroke-width="1.6" fill="none"/>
<path d="M546 168.8L750 168.8" stroke="#8c8c8c" stroke-width="1.0" fill="none"/>
<path d="M676 628.8L750 628.8" stroke="#8c8c8c" stroke-width="1.0" fill="none"/>
<path d="M734 168.8L734 628.8" stroke="#8c8c8c" stroke-width="1.0" fill="none"/>
<path d="M734 168.8L730.3 192L737.7 192Z" fill="#111"/>
<path d="M734 628.8L730.3 606.2L737.7 606.2Z" fill="#111"/>
<text x="0" y="0" font-size="27.5" stroke="#111" stroke-width="0.25" transform="translate(732.3 421.6) rotate(-90)">275</text>
<path d="M456.4 656L456.4 706.5" stroke="#8c8c8c" stroke-width="1.0" fill="none"/>
<path d="M588.9 656L588.9 706.5" stroke="#8c8c8c" stroke-width="1.0" fill="none"/>
<path d="M456.4 691L588.9 691" stroke="#8c8c8c" stroke-width="1.0" fill="none"/>
<path d="M456.4 691L479.8 687.4L479.8 694.6Z" fill="#111"/>
<path d="M588.9 691L565.5 687.4L565.5 694.6Z" fill="#111"/>
<text x="507.3" y="689.3" font-size="27.5" stroke="#111" stroke-width="0.25">80</text>
</svg>
</body></html>
